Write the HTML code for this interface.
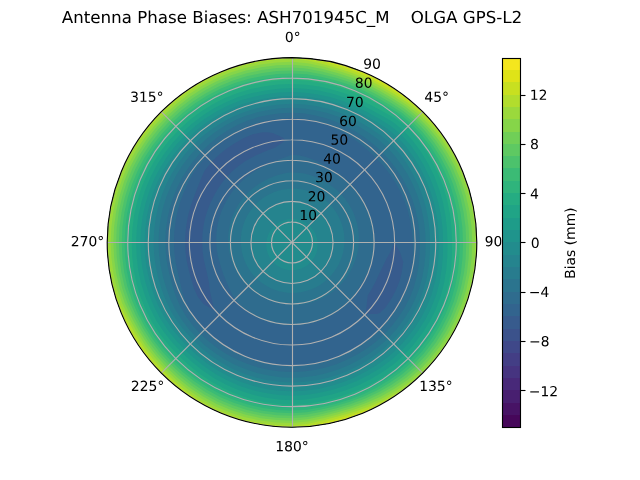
<!DOCTYPE html>
<html><head><meta charset="utf-8"><title>Antenna Phase Biases</title>
<style>
html,body{margin:0;padding:0;background:#fff;width:640px;height:480px;overflow:hidden;font-family:"Liberation Sans",sans-serif}
svg{display:block}
</style></head><body>
<svg width="640" height="480" viewBox="0 0 460.8 345.6">
<defs>
<style type="text/css">*{stroke-linejoin: round; stroke-linecap: butt}</style>
</defs>
<g id="figure_1">
<g id="patch_1">
<path d="M 0 345.6 
L 460.8 345.6 
L 460.8 0 
L 0 0 
z
" style="fill: #ffffff"/>
</g>
<g id="axes_1">
<g id="patch_2">
<path d="M 343.3 174.53 
C 343.3 157.06 339.85 139.75 333.17 123.61 
C 326.48 107.47 316.68 92.8 304.32 80.44 
C 291.97 68.09 277.3 58.29 261.16 51.6 
C 245.02 44.91 227.71 41.47 210.24 41.47 
C 192.77 41.47 175.46 44.91 159.32 51.6 
C 143.18 58.29 128.51 68.09 116.16 80.44 
C 103.8 92.8 94 107.47 87.31 123.61 
C 80.63 139.75 77.18 157.06 77.18 174.53 
C 77.18 192 80.63 209.3 87.31 225.45 
C 94 241.59 103.8 256.26 116.16 268.61 
C 128.51 280.97 143.18 290.77 159.32 297.46 
C 175.46 304.14 192.77 307.58 210.24 307.58 
C 227.71 307.58 245.02 304.14 261.16 297.46 
C 277.3 290.77 291.97 280.97 304.32 268.61 
C 316.68 256.26 326.48 241.59 333.17 225.45 
C 339.85 209.3 343.3 192 343.3 174.53 
M 210.24 174.53 
C 210.24 174.53 210.24 174.53 210.24 174.53 
C 210.24 174.53 210.24 174.53 210.24 174.53 
C 210.24 174.53 210.24 174.53 210.24 174.53 
C 210.24 174.53 210.24 174.53 210.24 174.53 
C 210.24 174.53 210.24 174.53 210.24 174.53 
C 210.24 174.53 210.24 174.53 210.24 174.53 
C 210.24 174.53 210.24 174.53 210.24 174.53 
C 210.24 174.53 210.24 174.53 210.24 174.53 
C 210.24 174.53 210.24 174.53 210.24 174.53 
C 210.24 174.53 210.24 174.53 210.24 174.53 
C 210.24 174.53 210.24 174.53 210.24 174.53 
C 210.24 174.53 210.24 174.53 210.24 174.53 
C 210.24 174.53 210.24 174.53 210.24 174.53 
C 210.24 174.53 210.24 174.53 210.24 174.53 
C 210.24 174.53 210.24 174.53 210.24 174.53 
C 210.24 174.53 210.24 174.53 210.24 174.53 
z
" style="fill: #ffffff"/>
</g>
<g id="QuadContourSet_1">
<path d="M 210.24 174.53 L 210.24 174.53 L 210.24 174.53 L 210.24 174.53 L 210.24 174.53 L 210.24 174.53 L 210.24 174.53 L 210.24 174.53 L 210.24 174.53 L 210.24 174.53 L 210.24 174.53 L 210.24 174.53 L 210.24 174.53 L 210.24 174.53 L 210.24 174.53 L 210.24 174.53 L 210.24 174.53 L 210.24 174.53 L 210.24 174.53 L 210.24 174.53 L 210.24 174.53 L 210.24 174.53 L 210.24 174.53 L 210.24 174.53 L 210.24 174.53 L 210.24 174.53 L 210.24 174.53 L 210.24 174.53 L 210.24 174.53 L 210.24 174.53 L 210.24 174.53 L 210.24 174.53 L 210.24 174.53 L 210.24 174.53 L 210.24 174.53 L 210.24 174.53 L 210.24 174.53 L 210.24 174.53 L 210.24 174.53 L 210.24 174.53 L 210.24 174.53 L 210.24 174.53 L 210.24 174.53 L 210.24 174.53 L 210.24 174.53 L 210.24 174.53 L 210.24 174.53 L 210.24 174.53 L 210.24 174.53 L 210.24 174.53 L 210.24 174.53 L 210.24 174.53 L 210.24 174.53 L 210.24 174.53 L 210.24 174.53 L 210.24 174.53 L 210.24 174.53 L 210.24 174.53 L 210.24 174.53 L 210.24 174.53 L 210.24 174.53 L 210.24 174.53 L 210.24 174.53 L 210.24 174.53 L 210.24 174.53 L 210.24 174.53 L 210.24 174.53 L 210.24 174.53 L 210.24 174.53 L 210.24 174.53 L 210.24 174.53 L 210.24 174.53 L 210.24 167.14 L 210.24 159.74 L 210.24 152.35 L 210.24 144.96 L 210.24 137.57 L 210.24 130.18 L 210.24 122.78 L 210.24 115.39 L 210.24 108.00 L 210.24 100.61 L 210.24 93.22 L 210.24 85.82 L 210.24 78.43 L 210.24 71.04 L 210.24 63.65 L 210.24 56.26 L 210.24 48.86 L 210.24 41.47 L 198.64 41.98 L 187.14 43.49 L 175.80 46.01 L 164.73 49.50 L 154.01 53.94 L 143.71 59.30 L 133.92 65.53 L 124.71 72.60 L 116.16 80.44 L 108.31 89.00 L 101.25 98.21 L 95.01 108.00 L 89.65 118.30 L 85.21 129.02 L 81.72 140.09 L 79.21 151.42 L 77.69 162.93 L 77.18 174.53 L 77.69 186.12 L 79.21 197.63 L 81.72 208.97 L 85.21 220.04 L 89.65 230.76 L 95.01 241.06 L 101.25 250.85 L 108.31 260.05 L 116.16 268.61 L 124.71 276.45 L 133.92 283.52 L 143.71 289.76 L 154.01 295.12 L 164.73 299.56 L 175.80 303.05 L 187.14 305.56 L 198.64 307.08 L 210.24 307.58 L 221.84 307.08 L 233.34 305.56 L 244.68 303.05 L 255.75 299.56 L 266.47 295.12 L 276.77 289.76 L 286.56 283.52 L 295.77 276.45 L 304.32 268.61 L 312.17 260.05 L 319.23 250.85 L 325.47 241.06 L 330.83 230.76 L 335.27 220.04 L 338.76 208.97 L 341.27 197.63 L 342.79 186.12 L 343.30 174.53 L 342.79 162.93 L 341.27 151.42 L 338.76 140.09 L 335.27 129.02 L 330.83 118.30 L 325.47 108.00 L 319.23 98.21 L 312.17 89.00 L 304.32 80.44 L 295.77 72.60 L 286.56 65.53 L 276.77 59.30 L 266.47 53.94 L 255.75 49.50 L 244.68 46.01 L 233.34 43.49 L 221.84 41.98 L 210.24 41.47 L 210.24 48.86 L 210.24 56.26 L 210.24 63.65 L 210.24 71.04 L 210.24 78.43 L 210.24 85.82 L 210.24 93.22 L 210.24 100.61 L 210.24 108.00 L 210.24 115.39 L 210.24 122.78 L 210.24 130.18 L 210.24 137.57 L 210.24 144.96 L 210.24 152.35 L 210.24 159.74 L 210.24 167.14 L 210.24 174.53 z" clip-path="url(#pded382b021)" fill="#375b8d"/>
<path d="M 210.24 174.53 L 210.24 174.53 L 210.24 174.53 L 210.24 174.53 L 210.24 174.53 L 210.24 174.53 L 210.24 174.53 L 210.24 174.53 L 210.24 174.53 L 210.24 174.53 L 210.24 174.53 L 210.24 174.53 L 210.24 174.53 L 210.24 174.53 L 210.24 174.53 L 210.24 174.53 L 210.24 174.53 L 210.24 174.53 L 210.24 174.53 L 210.24 174.53 L 210.24 174.53 L 210.24 174.53 L 210.24 174.53 L 210.24 174.53 L 210.24 174.53 L 210.24 174.53 L 210.24 174.53 L 210.24 174.53 L 210.24 174.53 L 210.24 174.53 L 210.24 174.53 L 210.24 174.53 L 210.24 174.53 L 210.24 174.53 L 210.24 174.53 L 210.24 174.53 L 210.24 174.53 L 210.24 174.53 L 210.24 174.53 L 210.24 174.53 L 210.24 174.53 L 210.24 174.53 L 210.24 174.53 L 210.24 174.53 L 210.24 174.53 L 210.24 174.53 L 210.24 174.53 L 210.24 174.53 L 210.24 174.53 L 210.24 174.53 L 210.24 174.53 L 210.24 174.53 L 210.24 174.53 L 210.24 174.53 L 210.24 174.53 L 210.24 174.53 L 210.24 174.53 L 210.24 174.53 L 210.24 174.53 L 210.24 174.53 L 210.24 174.53 L 210.24 174.53 L 210.24 174.53 L 210.24 174.53 L 210.24 174.53 L 210.24 174.53 L 210.24 174.53 L 210.24 174.53 L 210.24 174.53 L 210.24 174.53 L 210.24 174.53 L 210.24 174.53 L 210.24 167.14 L 210.24 159.74 L 210.24 152.35 L 210.24 144.96 L 210.24 137.57 L 210.24 130.18 L 210.24 122.78 L 210.24 115.39 L 210.24 108.00 L 210.24 100.61 L 210.24 93.22 L 210.24 85.82 L 210.24 78.43 L 210.24 71.04 L 210.24 63.65 L 210.24 56.26 L 210.24 48.86 L 210.24 41.47 L 198.64 41.98 L 187.14 43.49 L 175.80 46.01 L 164.73 49.50 L 154.01 53.94 L 143.71 59.30 L 133.92 65.53 L 124.71 72.60 L 116.16 80.44 L 108.31 89.00 L 101.25 98.21 L 95.01 108.00 L 89.65 118.30 L 85.21 129.02 L 81.72 140.09 L 79.21 151.42 L 77.69 162.93 L 77.18 174.53 L 77.69 186.12 L 79.21 197.63 L 81.72 208.97 L 85.21 220.04 L 89.65 230.76 L 95.01 241.06 L 101.25 250.85 L 108.31 260.05 L 116.16 268.61 L 124.71 276.45 L 133.92 283.52 L 143.71 289.76 L 154.01 295.12 L 164.73 299.56 L 175.80 303.05 L 187.14 305.56 L 198.64 307.08 L 210.24 307.58 L 221.84 307.08 L 233.34 305.56 L 244.68 303.05 L 255.75 299.56 L 266.47 295.12 L 276.77 289.76 L 286.56 283.52 L 295.77 276.45 L 304.32 268.61 L 312.17 260.05 L 319.23 250.85 L 325.47 241.06 L 330.83 230.76 L 335.27 220.04 L 338.76 208.97 L 341.27 197.63 L 342.79 186.12 L 343.30 174.53 L 342.79 162.93 L 341.27 151.42 L 338.76 140.09 L 335.27 129.02 L 330.83 118.30 L 325.47 108.00 L 319.23 98.21 L 312.17 89.00 L 304.32 80.44 L 295.77 72.60 L 286.56 65.53 L 276.77 59.30 L 266.47 53.94 L 255.75 49.50 L 244.68 46.01 L 233.34 43.49 L 221.84 41.98 L 210.24 41.47 L 210.24 48.86 L 210.24 56.26 L 210.24 63.65 L 210.24 71.04 L 210.24 78.43 L 210.24 85.82 L 210.24 93.22 L 210.24 100.61 L 210.24 108.00 L 210.24 115.39 L 210.24 122.78 L 210.24 130.18 L 210.24 137.57 L 210.24 144.96 L 210.24 152.35 L 210.24 159.74 L 210.24 167.14 L 210.24 174.53 z M 270.53 202.64 L 272.90 197.33 L 275.58 192.04 L 278.18 186.51 L 281.40 180.75 L 284.16 174.53 L 284.16 174.53 L 284.16 174.53 L 287.87 181.32 L 290.32 188.65 L 290.32 188.65 L 289.33 195.72 L 287.58 202.68 L 284.88 209.33 L 281.47 215.65 L 277.45 221.59 L 273.92 225.09 L 271.64 226.05 L 263.29 226.01 L 264.00 219.64 L 264.74 212.69 L 264.74 212.69 L 267.85 207.79 L 270.53 202.64 z M 150.50 203.81 L 151.02 208.72 L 152.39 215.03 L 153.98 221.74 L 154.53 223.11 L 152.92 222.62 L 146.67 219.04 L 142.38 213.71 L 139.63 207.46 L 137.66 200.94 L 135.90 194.45 L 134.45 187.89 L 133.57 181.24 L 133.28 174.53 L 133.53 167.82 L 134.30 161.14 L 135.59 154.53 L 137.42 148.02 L 139.72 141.64 L 142.15 135.22 L 144.74 128.66 L 147.19 123.18 L 147.85 122.18 L 152.34 116.63 L 157.47 111.64 L 163.03 107.11 L 168.98 103.07 L 175.29 99.59 L 181.92 96.73 L 188.98 95.18 L 192.39 95.20 L 196.34 95.72 L 203.64 99.04 L 205.33 100.77 L 203.92 102.24 L 198.18 106.14 L 192.51 108.37 L 186.98 110.62 L 181.63 113.17 L 176.52 116.12 L 171.70 119.49 L 167.23 123.27 L 163.20 127.49 L 163.20 127.49 L 159.56 132.01 L 156.35 136.80 L 153.55 141.80 L 151.14 146.97 L 149.11 152.28 L 147.54 157.73 L 146.43 163.28 L 145.78 168.89 L 145.56 174.53 L 145.81 180.17 L 146.54 185.76 L 147.76 191.27 L 149.05 196.80 L 150.22 202.52 z" clip-path="url(#pded382b021)" fill="#32648e"/>
<path d="M 210.24 174.53 L 210.24 174.53 L 210.24 174.53 L 210.24 174.53 L 210.24 174.53 L 210.24 174.53 L 210.24 174.53 L 210.24 174.53 L 210.24 174.53 L 210.24 174.53 L 210.24 174.53 L 210.24 174.53 L 210.24 174.53 L 210.24 174.53 L 210.24 174.53 L 210.24 174.53 L 210.24 174.53 L 210.24 174.53 L 210.24 174.53 L 210.24 174.53 L 210.24 174.53 L 210.24 174.53 L 210.24 174.53 L 210.24 174.53 L 210.24 174.53 L 210.24 174.53 L 210.24 174.53 L 210.24 174.53 L 210.24 174.53 L 210.24 174.53 L 210.24 174.53 L 210.24 174.53 L 210.24 174.53 L 210.24 174.53 L 210.24 174.53 L 210.24 174.53 L 210.24 174.53 L 210.24 174.53 L 210.24 174.53 L 210.24 174.53 L 210.24 174.53 L 210.24 174.53 L 210.24 174.53 L 210.24 174.53 L 210.24 174.53 L 210.24 174.53 L 210.24 174.53 L 210.24 174.53 L 210.24 174.53 L 210.24 174.53 L 210.24 174.53 L 210.24 174.53 L 210.24 174.53 L 210.24 174.53 L 210.24 174.53 L 210.24 174.53 L 210.24 174.53 L 210.24 174.53 L 210.24 174.53 L 210.24 174.53 L 210.24 174.53 L 210.24 174.53 L 210.24 174.53 L 210.24 174.53 L 210.24 174.53 L 210.24 174.53 L 210.24 174.53 L 210.24 174.53 L 210.24 174.53 L 210.24 174.53 L 210.24 174.53 L 210.24 174.53 L 210.24 167.14 L 210.24 159.74 L 210.24 152.35 L 210.24 144.96 L 210.24 137.57 L 210.24 130.18 L 210.24 122.78 L 210.24 115.39 L 210.24 111.36 L 204.89 113.42 L 199.79 115.24 L 194.89 117.24 L 193.83 117.72 L 190.22 119.51 L 185.71 121.92 L 181.43 124.62 L 177.40 127.63 L 173.65 130.92 L 170.20 134.49 L 167.08 138.32 L 164.32 142.38 L 161.92 146.63 L 159.89 151.05 L 158.24 155.60 L 157.00 160.26 L 156.16 164.99 L 155.73 169.76 L 155.69 174.53 L 156.05 179.27 L 156.82 183.95 L 157.99 188.53 L 159.36 193.05 L 160.83 197.57 L 162.58 202.04 L 164.55 206.52 L 166.69 211.07 L 169.37 215.40 L 172.64 219.34 L 175.89 222.67 L 176.29 223.01 L 180.46 226.11 L 184.98 228.71 L 189.78 230.73 L 194.76 232.30 L 199.85 233.43 L 205.03 234.11 L 210.24 234.34 L 215.45 234.11 L 220.63 233.43 L 225.72 232.30 L 230.70 230.73 L 235.52 228.73 L 240.14 226.32 L 244.53 223.51 L 248.64 220.29 L 252.44 216.73 L 254.87 213.32 L 255.41 212.43 L 257.95 207.93 L 260.71 203.67 L 263.09 199.17 L 265.19 194.53 L 267.24 190.27 L 267.40 189.84 L 268.82 184.86 L 269.59 179.72 L 269.92 174.53 L 269.70 169.33 L 269.02 164.16 L 267.89 159.08 L 266.32 154.12 L 264.33 149.30 L 261.95 144.67 L 259.18 140.26 L 256.04 136.10 L 252.53 132.24 L 248.68 128.71 L 244.54 125.54 L 240.14 122.73 L 235.65 120.04 L 231.04 117.39 L 226.15 115.14 L 221.04 113.30 L 215.72 111.91 L 210.24 111.36 L 210.24 115.39 L 210.24 122.78 L 210.24 130.18 L 210.24 137.57 L 210.24 144.96 L 210.24 152.35 L 210.24 159.74 L 210.24 167.14 L 210.24 174.53 z M 240.29 91.97 L 247.14 95.40 L 253.67 99.31 L 259.76 103.80 L 265.47 108.71 L 270.87 113.90 L 275.96 119.39 L 280.60 125.26 L 284.74 131.51 L 288.34 138.11 L 291.34 145.01 L 293.73 152.16 L 295.53 159.49 L 296.72 166.96 L 297.30 174.53 L 297.44 182.16 L 296.93 189.81 L 295.87 197.47 L 295.75 198.11 L 293.95 204.99 L 291.04 212.21 L 287.46 219.11 L 283.28 225.67 L 278.55 231.84 L 273.29 237.58 L 267.48 242.74 L 261.19 247.29 L 254.59 251.35 L 247.73 254.92 L 240.58 257.88 L 233.20 260.21 L 225.64 261.88 L 217.97 262.89 L 210.24 263.23 L 202.51 262.89 L 194.84 261.88 L 187.28 260.21 L 179.90 257.88 L 172.75 254.93 L 165.83 251.45 L 159.22 247.39 L 152.99 242.76 L 147.23 237.54 L 142.07 231.73 L 138.08 226.12 L 137.64 225.36 L 134.13 218.47 L 131.53 211.23 L 129.79 203.81 L 128.13 196.53 L 126.52 189.29 L 125.56 181.94 L 125.23 174.53 L 125.50 167.11 L 126.34 159.73 L 127.76 152.43 L 129.78 145.24 L 132.38 138.22 L 135.46 131.35 L 139.12 124.73 L 143.42 118.46 L 148.32 112.61 L 153.70 107.15 L 159.48 102.03 L 161.54 100.39 L 165.76 97.48 L 172.50 93.60 L 179.64 90.44 L 187.06 88.00 L 194.68 86.26 L 202.43 85.23 L 210.24 84.89 L 210.24 78.43 L 210.24 71.04 L 210.24 63.65 L 210.24 56.26 L 210.24 48.86 L 210.24 41.47 L 198.64 41.98 L 187.14 43.49 L 175.80 46.01 L 164.73 49.50 L 154.01 53.94 L 143.71 59.30 L 133.92 65.53 L 124.71 72.60 L 116.16 80.44 L 108.31 89.00 L 101.25 98.21 L 95.01 108.00 L 89.65 118.30 L 85.21 129.02 L 81.72 140.09 L 79.21 151.42 L 77.69 162.93 L 77.18 174.53 L 77.69 186.12 L 79.21 197.63 L 81.72 208.97 L 85.21 220.04 L 89.65 230.76 L 95.01 241.06 L 101.25 250.85 L 108.31 260.05 L 116.16 268.61 L 124.71 276.45 L 133.92 283.52 L 143.71 289.76 L 154.01 295.12 L 164.73 299.56 L 175.80 303.05 L 187.14 305.56 L 198.64 307.08 L 210.24 307.58 L 221.84 307.08 L 233.34 305.56 L 244.68 303.05 L 255.75 299.56 L 266.47 295.12 L 276.77 289.76 L 286.56 283.52 L 295.77 276.45 L 304.32 268.61 L 312.17 260.05 L 319.23 250.85 L 325.47 241.06 L 330.83 230.76 L 335.27 220.04 L 338.76 208.97 L 341.27 197.63 L 342.79 186.12 L 343.30 174.53 L 342.79 162.93 L 341.27 151.42 L 338.76 140.09 L 335.27 129.02 L 330.83 118.30 L 325.47 108.00 L 319.23 98.21 L 312.17 89.00 L 304.32 80.44 L 295.77 72.60 L 286.56 65.53 L 276.77 59.30 L 266.47 53.94 L 255.75 49.50 L 244.68 46.01 L 233.34 43.49 L 221.84 41.98 L 210.24 41.47 L 210.24 48.86 L 210.24 56.26 L 210.24 63.65 L 210.24 71.04 L 210.24 78.43 L 210.24 84.89 L 218.04 85.40 L 225.71 86.80 L 233.20 88.85 L 233.20 88.85 z" clip-path="url(#pded382b021)" fill="#2f6c8e"/>
<path d="M 210.24 174.53 L 210.24 174.53 L 210.24 174.53 L 210.24 174.53 L 210.24 174.53 L 210.24 174.53 L 210.24 174.53 L 210.24 174.53 L 210.24 174.53 L 210.24 174.53 L 210.24 174.53 L 210.24 174.53 L 210.24 174.53 L 210.24 174.53 L 210.24 174.53 L 210.24 174.53 L 210.24 174.53 L 210.24 174.53 L 210.24 174.53 L 210.24 174.53 L 210.24 174.53 L 210.24 174.53 L 210.24 174.53 L 210.24 174.53 L 210.24 174.53 L 210.24 174.53 L 210.24 174.53 L 210.24 174.53 L 210.24 174.53 L 210.24 174.53 L 210.24 174.53 L 210.24 174.53 L 210.24 174.53 L 210.24 174.53 L 210.24 174.53 L 210.24 174.53 L 210.24 174.53 L 210.24 174.53 L 210.24 174.53 L 210.24 174.53 L 210.24 174.53 L 210.24 174.53 L 210.24 174.53 L 210.24 174.53 L 210.24 174.53 L 210.24 174.53 L 210.24 174.53 L 210.24 174.53 L 210.24 174.53 L 210.24 174.53 L 210.24 174.53 L 210.24 174.53 L 210.24 174.53 L 210.24 174.53 L 210.24 174.53 L 210.24 174.53 L 210.24 174.53 L 210.24 174.53 L 210.24 174.53 L 210.24 174.53 L 210.24 174.53 L 210.24 174.53 L 210.24 174.53 L 210.24 174.53 L 210.24 174.53 L 210.24 174.53 L 210.24 174.53 L 210.24 174.53 L 210.24 174.53 L 210.24 174.53 L 210.24 174.53 L 210.24 174.53 L 210.24 167.14 L 210.24 159.74 L 210.24 152.35 L 210.24 144.96 L 210.24 137.57 L 210.24 130.18 L 210.24 124.09 L 205.87 124.61 L 201.61 125.60 L 197.49 126.95 L 193.52 128.58 L 189.69 130.47 L 186.06 132.64 L 182.64 135.10 L 179.45 137.83 L 176.52 140.81 L 173.88 144.01 L 171.53 147.42 L 169.49 151.00 L 167.77 154.72 L 166.38 158.56 L 165.33 162.49 L 164.63 166.48 L 164.27 170.51 L 164.25 174.53 L 164.58 178.52 L 165.25 182.46 L 166.25 186.32 L 167.55 190.06 L 169.16 193.69 L 171.06 197.15 L 173.24 200.43 L 175.69 203.52 L 178.40 206.37 L 181.34 208.97 L 184.48 211.32 L 187.80 213.39 L 191.28 215.18 L 194.90 216.67 L 198.63 217.85 L 202.45 218.73 L 206.32 219.29 L 210.24 219.52 L 214.17 219.43 L 218.08 219.02 L 221.96 218.28 L 225.77 217.21 L 229.50 215.83 L 233.10 214.13 L 236.56 212.12 L 239.86 209.82 L 242.96 207.24 L 245.78 204.35 L 248.35 201.21 L 250.70 197.89 L 252.77 194.36 L 254.54 190.65 L 256.07 186.81 L 257.25 182.82 L 258.00 178.71 L 258.39 174.53 L 258.41 170.31 L 258.04 166.10 L 257.30 161.92 L 256.18 157.81 L 254.70 153.80 L 252.85 149.93 L 250.65 146.24 L 248.12 142.75 L 245.27 139.50 L 242.14 136.51 L 238.74 133.83 L 235.11 131.46 L 231.30 129.37 L 227.34 127.55 L 223.22 126.09 L 218.97 125.00 L 214.63 124.30 L 210.24 124.09 L 210.24 130.18 L 210.24 137.57 L 210.24 144.96 L 210.24 152.35 L 210.24 159.74 L 210.24 167.14 L 210.24 174.53 z M 218.37 81.63 L 226.39 82.96 L 234.23 84.99 L 241.87 87.61 L 249.24 90.88 L 256.28 94.78 L 262.97 99.22 L 269.30 104.14 L 275.20 109.56 L 280.62 115.47 L 285.51 121.82 L 289.83 128.58 L 293.55 135.68 L 296.64 143.08 L 299.06 150.73 L 300.81 158.56 L 301.90 166.51 L 302.32 174.53 L 302.18 182.57 L 301.45 190.61 L 300.14 198.62 L 298.12 206.51 L 295.14 214.12 L 291.43 221.40 L 287.06 228.32 L 282.08 234.81 L 276.56 240.84 L 270.45 246.28 L 263.84 251.07 L 256.90 255.35 L 249.68 259.11 L 242.16 262.22 L 234.39 264.67 L 226.45 266.43 L 218.37 267.50 L 210.24 267.85 L 202.11 267.49 L 194.04 266.40 L 186.11 264.60 L 178.36 262.11 L 170.86 258.97 L 163.66 255.21 L 156.79 250.86 L 150.33 245.93 L 144.32 240.45 L 138.87 234.41 L 134.06 227.87 L 129.93 220.90 L 126.66 213.50 L 124.23 205.83 L 122.18 198.12 L 120.46 190.36 L 119.42 182.47 L 119.07 174.53 L 119.39 166.58 L 120.35 158.68 L 121.97 150.88 L 124.25 143.23 L 127.20 135.81 L 130.77 128.65 L 134.94 121.80 L 139.69 115.33 L 144.98 109.27 L 150.77 103.65 L 157.01 98.51 L 163.71 93.93 L 170.82 90.00 L 178.30 86.79 L 186.07 84.32 L 194.02 82.56 L 202.10 81.50 L 210.24 81.15 L 210.24 78.43 L 210.24 71.04 L 210.24 63.65 L 210.24 56.26 L 210.24 48.86 L 210.24 41.47 L 198.64 41.98 L 187.14 43.49 L 175.80 46.01 L 164.73 49.50 L 154.01 53.94 L 143.71 59.30 L 133.92 65.53 L 124.71 72.60 L 116.16 80.44 L 108.31 89.00 L 101.25 98.21 L 95.01 108.00 L 89.65 118.30 L 85.21 129.02 L 81.72 140.09 L 79.21 151.42 L 77.69 162.93 L 77.18 174.53 L 77.69 186.12 L 79.21 197.63 L 81.72 208.97 L 85.21 220.04 L 89.65 230.76 L 95.01 241.06 L 101.25 250.85 L 108.31 260.05 L 116.16 268.61 L 124.71 276.45 L 133.92 283.52 L 143.71 289.76 L 154.01 295.12 L 164.73 299.56 L 175.80 303.05 L 187.14 305.56 L 198.64 307.08 L 210.24 307.58 L 221.84 307.08 L 233.34 305.56 L 244.68 303.05 L 255.75 299.56 L 266.47 295.12 L 276.77 289.76 L 286.56 283.52 L 295.77 276.45 L 304.32 268.61 L 312.17 260.05 L 319.23 250.85 L 325.47 241.06 L 330.83 230.76 L 335.27 220.04 L 338.76 208.97 L 341.27 197.63 L 342.79 186.12 L 343.30 174.53 L 342.79 162.93 L 341.27 151.42 L 338.76 140.09 L 335.27 129.02 L 330.83 118.30 L 325.47 108.00 L 319.23 98.21 L 312.17 89.00 L 304.32 80.44 L 295.77 72.60 L 286.56 65.53 L 276.77 59.30 L 266.47 53.94 L 255.75 49.50 L 244.68 46.01 L 233.34 43.49 L 221.84 41.98 L 210.24 41.47 L 210.24 48.86 L 210.24 56.26 L 210.24 63.65 L 210.24 71.04 L 210.24 78.43 L 210.24 81.15 z" clip-path="url(#pded382b021)" fill="#2b748e"/>
<path d="M 210.24 174.53 L 210.24 174.53 L 210.24 174.53 L 210.24 174.53 L 210.24 174.53 L 210.24 174.53 L 210.24 174.53 L 210.24 174.53 L 210.24 174.53 L 210.24 174.53 L 210.24 174.53 L 210.24 174.53 L 210.24 174.53 L 210.24 174.53 L 210.24 174.53 L 210.24 174.53 L 210.24 174.53 L 210.24 174.53 L 210.24 174.53 L 210.24 174.53 L 210.24 174.53 L 210.24 174.53 L 210.24 174.53 L 210.24 174.53 L 210.24 174.53 L 210.24 174.53 L 210.24 174.53 L 210.24 174.53 L 210.24 174.53 L 210.24 174.53 L 210.24 174.53 L 210.24 174.53 L 210.24 174.53 L 210.24 174.53 L 210.24 174.53 L 210.24 174.53 L 210.24 174.53 L 210.24 174.53 L 210.24 174.53 L 210.24 174.53 L 210.24 174.53 L 210.24 174.53 L 210.24 174.53 L 210.24 174.53 L 210.24 174.53 L 210.24 174.53 L 210.24 174.53 L 210.24 174.53 L 210.24 174.53 L 210.24 174.53 L 210.24 174.53 L 210.24 174.53 L 210.24 174.53 L 210.24 174.53 L 210.24 174.53 L 210.24 174.53 L 210.24 174.53 L 210.24 174.53 L 210.24 174.53 L 210.24 174.53 L 210.24 174.53 L 210.24 174.53 L 210.24 174.53 L 210.24 174.53 L 210.24 174.53 L 210.24 174.53 L 210.24 174.53 L 210.24 174.53 L 210.24 174.53 L 210.24 174.53 L 210.24 174.53 L 210.24 174.53 L 210.24 167.14 L 210.24 159.74 L 210.24 152.35 L 210.24 144.96 L 210.24 137.57 L 210.24 135.79 L 206.87 136.00 L 203.54 136.51 L 200.27 137.32 L 197.10 138.42 L 194.04 139.79 L 191.13 141.43 L 188.39 143.32 L 185.82 145.43 L 183.47 147.75 L 181.33 150.27 L 179.42 152.95 L 177.76 155.78 L 176.36 158.73 L 175.22 161.78 L 174.36 164.91 L 173.76 168.10 L 173.49 170.60 L 173.44 171.31 L 173.37 174.53 L 173.58 177.74 L 174.06 180.91 L 174.82 184.02 L 175.83 187.05 L 177.10 189.98 L 178.62 192.79 L 180.36 195.45 L 182.33 197.95 L 184.50 200.27 L 186.85 202.40 L 189.38 204.31 L 192.07 206.01 L 194.88 207.46 L 197.81 208.67 L 200.83 209.63 L 203.93 210.32 L 207.07 210.75 L 210.24 210.91 L 213.41 210.80 L 216.57 210.41 L 219.68 209.76 L 222.73 208.84 L 225.69 207.67 L 228.55 206.24 L 231.27 204.57 L 233.85 202.67 L 236.26 200.55 L 238.48 198.23 L 240.50 195.72 L 240.92 195.14 L 242.32 193.05 L 243.91 190.23 L 245.26 187.27 L 246.35 184.20 L 247.17 181.04 L 247.72 177.81 L 247.98 174.53 L 247.96 171.23 L 247.65 167.93 L 247.04 164.67 L 246.15 161.46 L 244.97 158.33 L 243.52 155.32 L 241.79 152.43 L 239.81 149.71 L 237.59 147.18 L 235.14 144.85 L 232.49 142.75 L 229.65 140.90 L 226.66 139.32 L 223.53 138.02 L 220.29 137.01 L 216.98 136.29 L 213.62 135.89 L 210.24 135.79 L 210.24 137.57 L 210.24 144.96 L 210.24 152.35 L 210.24 159.74 L 210.24 167.14 L 210.24 174.53 z M 218.68 78.07 L 227.03 79.31 L 235.23 81.27 L 243.23 83.90 L 250.96 87.20 L 258.37 91.17 L 265.50 95.61 L 272.36 100.50 L 278.71 106.06 L 284.39 112.31 L 289.44 119.07 L 293.87 126.24 L 297.67 133.76 L 300.83 141.56 L 303.29 149.60 L 305.04 157.81 L 306.11 166.14 L 306.49 174.53 L 306.31 182.93 L 305.51 191.33 L 304.04 199.66 L 301.83 207.87 L 298.73 215.79 L 294.88 223.39 L 290.33 230.61 L 285.14 237.38 L 279.38 243.67 L 273.03 249.36 L 266.18 254.42 L 258.96 258.91 L 251.42 262.84 L 243.57 266.09 L 235.46 268.65 L 227.16 270.49 L 218.73 271.60 L 210.24 271.97 L 201.75 271.58 L 193.33 270.44 L 185.05 268.54 L 176.97 265.94 L 169.15 262.64 L 161.67 258.66 L 154.55 254.05 L 147.87 248.86 L 141.64 243.13 L 135.92 236.89 L 130.78 230.17 L 126.31 222.99 L 122.64 215.38 L 119.76 207.46 L 117.42 199.40 L 115.60 191.21 L 114.51 182.90 L 114.14 174.53 L 114.50 166.15 L 115.56 157.83 L 117.33 149.63 L 119.80 141.61 L 122.97 133.83 L 126.79 126.35 L 131.25 119.22 L 136.31 112.50 L 141.94 106.23 L 148.09 100.46 L 154.72 95.24 L 161.79 90.61 L 169.26 86.65 L 177.07 83.39 L 185.15 80.89 L 193.41 79.11 L 201.80 78.01 L 210.24 77.64 L 210.24 71.04 L 210.24 63.65 L 210.24 56.26 L 210.24 48.86 L 210.24 41.47 L 198.64 41.98 L 187.14 43.49 L 175.80 46.01 L 164.73 49.50 L 154.01 53.94 L 143.71 59.30 L 133.92 65.53 L 124.71 72.60 L 116.16 80.44 L 108.31 89.00 L 101.25 98.21 L 95.01 108.00 L 89.65 118.30 L 85.21 129.02 L 81.72 140.09 L 79.21 151.42 L 77.69 162.93 L 77.18 174.53 L 77.69 186.12 L 79.21 197.63 L 81.72 208.97 L 85.21 220.04 L 89.65 230.76 L 95.01 241.06 L 101.25 250.85 L 108.31 260.05 L 116.16 268.61 L 124.71 276.45 L 133.92 283.52 L 143.71 289.76 L 154.01 295.12 L 164.73 299.56 L 175.80 303.05 L 187.14 305.56 L 198.64 307.08 L 210.24 307.58 L 221.84 307.08 L 233.34 305.56 L 244.68 303.05 L 255.75 299.56 L 266.47 295.12 L 276.77 289.76 L 286.56 283.52 L 295.77 276.45 L 304.32 268.61 L 312.17 260.05 L 319.23 250.85 L 325.47 241.06 L 330.83 230.76 L 335.27 220.04 L 338.76 208.97 L 341.27 197.63 L 342.79 186.12 L 343.30 174.53 L 342.79 162.93 L 341.27 151.42 L 338.76 140.09 L 335.27 129.02 L 330.83 118.30 L 325.47 108.00 L 319.23 98.21 L 312.17 89.00 L 304.32 80.44 L 295.77 72.60 L 286.56 65.53 L 276.77 59.30 L 266.47 53.94 L 255.75 49.50 L 244.68 46.01 L 233.34 43.49 L 221.84 41.98 L 210.24 41.47 L 210.24 48.86 L 210.24 56.26 L 210.24 63.65 L 210.24 71.04 L 210.24 77.64 z" clip-path="url(#pded382b021)" fill="#287c8e"/>
<path d="M 210.24 174.53 L 210.24 174.53 L 210.24 174.53 L 210.24 174.53 L 210.24 174.53 L 210.24 174.53 L 210.24 174.53 L 210.24 174.53 L 210.24 174.53 L 210.24 174.53 L 210.24 174.53 L 210.24 174.53 L 210.24 174.53 L 210.24 174.53 L 210.24 174.53 L 210.24 174.53 L 210.24 174.53 L 210.24 174.53 L 210.24 174.53 L 210.24 174.53 L 210.24 174.53 L 210.24 174.53 L 210.24 174.53 L 210.24 174.53 L 210.24 174.53 L 210.24 174.53 L 210.24 174.53 L 210.24 174.53 L 210.24 174.53 L 210.24 174.53 L 210.24 174.53 L 210.24 174.53 L 210.24 174.53 L 210.24 174.53 L 210.24 174.53 L 210.24 174.53 L 210.24 174.53 L 210.24 174.53 L 210.24 174.53 L 210.24 174.53 L 210.24 174.53 L 210.24 174.53 L 210.24 174.53 L 210.24 174.53 L 210.24 174.53 L 210.24 174.53 L 210.24 174.53 L 210.24 174.53 L 210.24 174.53 L 210.24 174.53 L 210.24 174.53 L 210.24 174.53 L 210.24 174.53 L 210.24 174.53 L 210.24 174.53 L 210.24 174.53 L 210.24 174.53 L 210.24 174.53 L 210.24 174.53 L 210.24 174.53 L 210.24 174.53 L 210.24 174.53 L 210.24 174.53 L 210.24 174.53 L 210.24 174.53 L 210.24 174.53 L 210.24 174.53 L 210.24 174.53 L 210.24 174.53 L 210.24 174.53 L 210.24 174.53 L 210.24 174.53 L 210.24 167.14 L 210.24 159.74 L 210.24 152.35 L 210.24 144.96 L 210.24 144.71 L 207.64 144.82 L 205.06 145.16 L 202.52 145.73 L 200.04 146.51 L 197.64 147.51 L 195.34 148.71 L 193.14 150.11 L 191.08 151.70 L 189.17 153.45 L 187.41 155.37 L 185.83 157.44 L 184.44 159.63 L 183.24 161.94 L 182.25 164.34 L 181.47 166.82 L 180.91 169.36 L 180.57 171.93 L 180.46 174.53 L 180.57 177.12 L 180.92 179.70 L 181.48 182.23 L 182.26 184.71 L 183.26 187.11 L 184.46 189.41 L 185.85 191.60 L 187.44 193.66 L 189.19 195.58 L 191.11 197.33 L 193.17 198.91 L 195.36 200.31 L 197.66 201.50 L 200.06 202.50 L 202.54 203.28 L 205.07 203.84 L 207.65 204.18 L 210.24 204.29 L 212.83 204.18 L 215.41 203.84 L 217.94 203.28 L 220.42 202.50 L 222.82 201.51 L 225.13 200.31 L 227.32 198.92 L 229.38 197.34 L 231.30 195.58 L 233.05 193.67 L 234.64 191.61 L 236.03 189.42 L 237.24 187.12 L 238.23 184.72 L 239.02 182.24 L 239.58 179.70 L 239.92 177.12 L 240.04 174.53 L 239.93 171.93 L 239.59 169.35 L 239.03 166.81 L 238.25 164.33 L 237.26 161.93 L 236.06 159.62 L 234.66 157.43 L 233.08 155.36 L 231.32 153.44 L 229.41 151.69 L 227.34 150.10 L 225.15 148.70 L 222.84 147.50 L 220.44 146.51 L 217.96 145.72 L 215.42 145.16 L 212.84 144.82 L 210.24 144.71 L 210.24 144.96 L 210.24 152.35 L 210.24 159.74 L 210.24 167.14 L 210.24 174.53 z M 218.93 75.19 L 227.54 76.40 L 236.01 78.35 L 244.27 81.02 L 252.27 84.39 L 259.94 88.45 L 267.39 92.91 L 274.64 97.78 L 281.33 103.44 L 287.19 109.96 L 292.38 117.02 L 296.89 124.50 L 300.75 132.32 L 303.96 140.42 L 306.45 148.75 L 308.22 157.25 L 309.27 165.86 L 309.64 174.53 L 309.46 183.21 L 308.67 191.88 L 307.17 200.50 L 304.90 208.98 L 301.72 217.19 L 297.78 225.07 L 293.09 232.54 L 287.71 239.54 L 281.75 246.04 L 275.19 251.94 L 268.11 257.17 L 260.64 261.82 L 252.84 265.88 L 244.72 269.25 L 236.33 271.89 L 227.74 273.80 L 219.03 274.94 L 210.24 275.33 L 201.46 274.92 L 192.75 273.72 L 184.19 271.75 L 175.84 269.03 L 167.77 265.60 L 160.06 261.45 L 152.75 256.64 L 145.87 251.24 L 139.46 245.31 L 133.53 238.90 L 128.16 232.00 L 123.46 224.63 L 119.58 216.80 L 116.50 208.65 L 114.02 200.31 L 112.14 191.83 L 111.00 183.21 L 110.62 174.53 L 111.00 165.85 L 112.11 157.23 L 113.97 148.73 L 116.56 140.43 L 119.86 132.38 L 123.85 124.65 L 128.50 117.29 L 133.77 110.36 L 139.62 103.91 L 146.01 97.99 L 152.91 92.65 L 160.26 87.95 L 167.99 83.93 L 176.06 80.62 L 184.40 78.07 L 192.92 76.28 L 201.55 75.15 L 210.24 74.77 L 210.24 71.04 L 210.24 63.65 L 210.24 56.26 L 210.24 48.86 L 210.24 41.47 L 198.64 41.98 L 187.14 43.49 L 175.80 46.01 L 164.73 49.50 L 154.01 53.94 L 143.71 59.30 L 133.92 65.53 L 124.71 72.60 L 116.16 80.44 L 108.31 89.00 L 101.25 98.21 L 95.01 108.00 L 89.65 118.30 L 85.21 129.02 L 81.72 140.09 L 79.21 151.42 L 77.69 162.93 L 77.18 174.53 L 77.69 186.12 L 79.21 197.63 L 81.72 208.97 L 85.21 220.04 L 89.65 230.76 L 95.01 241.06 L 101.25 250.85 L 108.31 260.05 L 116.16 268.61 L 124.71 276.45 L 133.92 283.52 L 143.71 289.76 L 154.01 295.12 L 164.73 299.56 L 175.80 303.05 L 187.14 305.56 L 198.64 307.08 L 210.24 307.58 L 221.84 307.08 L 233.34 305.56 L 244.68 303.05 L 255.75 299.56 L 266.47 295.12 L 276.77 289.76 L 286.56 283.52 L 295.77 276.45 L 304.32 268.61 L 312.17 260.05 L 319.23 250.85 L 325.47 241.06 L 330.83 230.76 L 335.27 220.04 L 338.76 208.97 L 341.27 197.63 L 342.79 186.12 L 343.30 174.53 L 342.79 162.93 L 341.27 151.42 L 338.76 140.09 L 335.27 129.02 L 330.83 118.30 L 325.47 108.00 L 319.23 98.21 L 312.17 89.00 L 304.32 80.44 L 295.77 72.60 L 286.56 65.53 L 276.77 59.30 L 266.47 53.94 L 255.75 49.50 L 244.68 46.01 L 233.34 43.49 L 221.84 41.98 L 210.24 41.47 L 210.24 48.86 L 210.24 56.26 L 210.24 63.65 L 210.24 71.04 L 210.24 74.77 z" clip-path="url(#pded382b021)" fill="#25848e"/>
<path d="M 210.24 174.53 L 210.24 174.53 L 210.24 174.53 L 210.24 174.53 L 210.24 174.53 L 210.24 174.53 L 210.24 174.53 L 210.24 174.53 L 210.24 174.53 L 210.24 174.53 L 210.24 174.53 L 210.24 174.53 L 210.24 174.53 L 210.24 174.53 L 210.24 174.53 L 210.24 174.53 L 210.24 174.53 L 210.24 174.53 L 210.24 174.53 L 210.24 174.53 L 210.24 174.53 L 210.24 174.53 L 210.24 174.53 L 210.24 174.53 L 210.24 174.53 L 210.24 174.53 L 210.24 174.53 L 210.24 174.53 L 210.24 174.53 L 210.24 174.53 L 210.24 174.53 L 210.24 174.53 L 210.24 174.53 L 210.24 174.53 L 210.24 174.53 L 210.24 174.53 L 210.24 174.53 L 210.24 174.53 L 210.24 174.53 L 210.24 174.53 L 210.24 174.53 L 210.24 174.53 L 210.24 174.53 L 210.24 174.53 L 210.24 174.53 L 210.24 174.53 L 210.24 174.53 L 210.24 174.53 L 210.24 174.53 L 210.24 174.53 L 210.24 174.53 L 210.24 174.53 L 210.24 174.53 L 210.24 174.53 L 210.24 174.53 L 210.24 174.53 L 210.24 174.53 L 210.24 174.53 L 210.24 174.53 L 210.24 174.53 L 210.24 174.53 L 210.24 174.53 L 210.24 174.53 L 210.24 174.53 L 210.24 174.53 L 210.24 174.53 L 210.24 174.53 L 210.24 174.53 L 210.24 174.53 L 210.24 174.53 L 210.24 174.53 L 210.24 174.53 L 210.24 167.14 L 210.24 159.74 L 210.24 157.65 L 208.77 157.71 L 207.30 157.88 L 205.86 158.17 L 204.43 158.58 L 203.04 159.09 L 201.69 159.73 L 200.39 160.46 L 199.15 161.31 L 197.97 162.26 L 196.87 163.31 L 195.85 164.46 L 194.93 165.69 L 194.10 167.00 L 193.39 168.39 L 192.79 169.85 L 192.31 171.37 L 191.97 172.93 L 191.76 174.53 L 191.69 176.15 L 191.77 177.79 L 191.99 179.42 L 192.36 181.04 L 192.88 182.62 L 193.54 184.17 L 194.35 185.65 L 195.29 187.07 L 196.37 188.40 L 197.57 189.62 L 198.89 190.74 L 200.31 191.73 L 201.82 192.59 L 203.40 193.31 L 205.06 193.87 L 206.76 194.28 L 208.49 194.53 L 210.24 194.61 L 211.99 194.53 L 213.72 194.28 L 215.42 193.87 L 217.08 193.31 L 218.66 192.59 L 220.17 191.73 L 221.59 190.74 L 222.91 189.62 L 224.11 188.40 L 225.19 187.07 L 226.13 185.65 L 226.94 184.17 L 227.60 182.62 L 228.12 181.04 L 228.49 179.42 L 228.71 177.79 L 228.79 176.15 L 228.72 174.53 L 228.51 172.93 L 228.17 171.37 L 227.69 169.85 L 227.09 168.39 L 226.38 167.00 L 225.55 165.69 L 224.63 164.46 L 223.61 163.31 L 222.51 162.26 L 221.33 161.31 L 220.09 160.46 L 218.79 159.73 L 217.44 159.09 L 216.05 158.58 L 214.62 158.17 L 213.18 157.88 L 211.71 157.71 L 210.24 157.65 L 210.24 159.74 L 210.24 167.14 L 210.24 174.53 z M 219.18 72.30 L 228.06 73.49 L 236.79 75.44 L 245.32 78.14 L 253.58 81.58 L 261.51 85.72 L 269.28 90.22 L 274.72 93.58 L 276.90 95.09 L 283.87 100.90 L 289.93 107.66 L 295.28 114.99 L 299.90 122.76 L 300.59 124.06 L 303.82 130.89 L 307.09 139.28 L 309.61 147.90 L 311.39 156.69 L 312.44 165.59 L 312.78 174.53 L 312.62 183.48 L 311.84 192.44 L 310.73 199.28 L 310.30 201.34 L 307.97 210.10 L 304.71 218.58 L 300.65 226.72 L 295.81 234.44 L 290.26 241.67 L 284.10 248.39 L 277.33 254.48 L 270.01 259.89 L 262.29 264.69 L 254.23 268.87 L 245.84 272.34 L 237.18 275.07 L 228.32 277.04 L 219.31 278.23 L 210.24 278.64 L 201.17 278.22 L 192.18 276.97 L 183.34 274.92 L 174.72 272.10 L 166.40 268.54 L 158.45 264.23 L 154.82 261.92 L 150.94 259.22 L 143.88 253.61 L 137.28 247.49 L 131.14 240.90 L 125.54 233.84 L 120.62 226.27 L 120.62 226.27 L 120.62 226.27 L 116.53 218.23 L 113.23 209.84 L 110.62 201.22 L 108.67 192.44 L 107.50 183.52 L 107.10 174.53 L 107.50 165.54 L 108.67 156.62 L 110.61 147.83 L 113.32 139.25 L 116.76 130.94 L 120.91 122.95 L 125.74 115.36 L 131.22 108.22 L 137.30 101.58 L 143.94 95.51 L 151.10 90.07 L 158.72 85.29 L 166.72 81.20 L 175.05 77.84 L 183.64 75.26 L 192.42 73.45 L 201.30 72.29 L 210.24 71.90 L 210.24 71.04 L 210.24 63.65 L 210.24 56.26 L 210.24 48.86 L 210.24 41.47 L 198.64 41.98 L 187.14 43.49 L 175.80 46.01 L 164.73 49.50 L 154.01 53.94 L 143.71 59.30 L 133.92 65.53 L 124.71 72.60 L 116.16 80.44 L 108.31 89.00 L 101.25 98.21 L 95.01 108.00 L 89.65 118.30 L 85.21 129.02 L 81.72 140.09 L 79.21 151.42 L 77.69 162.93 L 77.18 174.53 L 77.69 186.12 L 79.21 197.63 L 81.72 208.97 L 85.21 220.04 L 89.65 230.76 L 95.01 241.06 L 101.25 250.85 L 108.31 260.05 L 116.16 268.61 L 124.71 276.45 L 133.92 283.52 L 143.71 289.76 L 154.01 295.12 L 164.73 299.56 L 175.80 303.05 L 187.14 305.56 L 198.64 307.08 L 210.24 307.58 L 221.84 307.08 L 233.34 305.56 L 244.68 303.05 L 255.75 299.56 L 266.47 295.12 L 276.77 289.76 L 286.56 283.52 L 295.77 276.45 L 304.32 268.61 L 312.17 260.05 L 319.23 250.85 L 325.47 241.06 L 330.83 230.76 L 335.27 220.04 L 338.76 208.97 L 341.27 197.63 L 342.79 186.12 L 343.30 174.53 L 342.79 162.93 L 341.27 151.42 L 338.76 140.09 L 335.27 129.02 L 330.83 118.30 L 325.47 108.00 L 319.23 98.21 L 312.17 89.00 L 304.32 80.44 L 295.77 72.60 L 286.56 65.53 L 276.77 59.30 L 266.47 53.94 L 255.75 49.50 L 244.68 46.01 L 233.34 43.49 L 221.84 41.98 L 210.24 41.47 L 210.24 48.86 L 210.24 56.26 L 210.24 63.65 L 210.24 71.04 L 210.24 71.90 z" clip-path="url(#pded382b021)" fill="#228c8d"/>
<path d="M 219.43 69.48 L 228.55 70.70 L 237.52 72.70 L 246.30 75.46 L 254.80 78.97 L 262.97 83.20 L 270.98 87.78 L 278.88 92.73 L 286.11 98.66 L 292.36 105.62 L 297.88 113.16 L 302.65 121.17 L 306.71 129.54 L 310.08 138.19 L 312.67 147.08 L 314.49 156.15 L 315.55 165.31 L 315.90 174.53 L 315.74 183.76 L 314.97 192.99 L 313.39 202.17 L 311.01 211.21 L 307.65 219.95 L 303.46 228.35 L 298.46 236.30 L 292.75 243.76 L 286.40 250.69 L 279.40 256.95 L 271.82 262.48 L 263.85 267.38 L 255.52 271.64 L 246.87 275.16 L 237.95 277.94 L 228.84 280.00 L 219.58 281.30 L 210.24 281.74 L 200.90 281.31 L 191.64 280.01 L 182.55 277.89 L 173.68 274.97 L 165.12 271.29 L 156.95 266.84 L 149.22 261.68 L 141.95 255.91 L 135.17 249.60 L 128.84 242.83 L 123.05 235.58 L 117.98 227.79 L 113.75 219.52 L 110.31 210.90 L 107.58 202.04 L 105.60 192.98 L 104.45 183.78 L 104.07 174.53 L 104.47 165.27 L 105.68 156.09 L 107.69 147.05 L 110.47 138.22 L 114.02 129.66 L 118.31 121.45 L 123.31 113.66 L 128.97 106.34 L 135.24 99.53 L 142.08 93.30 L 149.44 87.70 L 157.27 82.79 L 165.50 78.58 L 174.06 75.13 L 182.90 72.50 L 191.92 70.66 L 201.05 69.47 L 210.24 69.07 L 210.24 63.65 L 210.24 56.26 L 210.24 48.86 L 210.24 41.47 L 198.64 41.98 L 187.14 43.49 L 175.80 46.01 L 164.73 49.50 L 154.01 53.94 L 143.71 59.30 L 133.92 65.53 L 124.71 72.60 L 116.16 80.44 L 108.31 89.00 L 101.25 98.21 L 95.01 108.00 L 89.65 118.30 L 85.21 129.02 L 81.72 140.09 L 79.21 151.42 L 77.69 162.93 L 77.18 174.53 L 77.69 186.12 L 79.21 197.63 L 81.72 208.97 L 85.21 220.04 L 89.65 230.76 L 95.01 241.06 L 101.25 250.85 L 108.31 260.05 L 116.16 268.61 L 124.71 276.45 L 133.92 283.52 L 143.71 289.76 L 154.01 295.12 L 164.73 299.56 L 175.80 303.05 L 187.14 305.56 L 198.64 307.08 L 210.24 307.58 L 221.84 307.08 L 233.34 305.56 L 244.68 303.05 L 255.75 299.56 L 266.47 295.12 L 276.77 289.76 L 286.56 283.52 L 295.77 276.45 L 304.32 268.61 L 312.17 260.05 L 319.23 250.85 L 325.47 241.06 L 330.83 230.76 L 335.27 220.04 L 338.76 208.97 L 341.27 197.63 L 342.79 186.12 L 343.30 174.53 L 342.79 162.93 L 341.27 151.42 L 338.76 140.09 L 335.27 129.02 L 330.83 118.30 L 325.47 108.00 L 319.23 98.21 L 312.17 89.00 L 304.32 80.44 L 295.77 72.60 L 286.56 65.53 L 276.77 59.30 L 266.47 53.94 L 255.75 49.50 L 244.68 46.01 L 233.34 43.49 L 221.84 41.98 L 210.24 41.47 L 210.24 48.86 L 210.24 56.26 L 210.24 63.65 L 210.24 69.07 z" clip-path="url(#pded382b021)" fill="#1f948c"/>
<path d="M 219.67 66.70 L 229.03 67.97 L 238.24 70.04 L 247.24 72.86 L 255.98 76.45 L 264.37 80.77 L 272.65 85.39 L 280.86 90.37 L 288.35 96.42 L 294.80 103.58 L 300.48 111.34 L 305.41 119.58 L 309.59 128.20 L 313.06 137.11 L 315.72 146.27 L 317.57 155.60 L 318.66 165.04 L 319.01 174.53 L 318.86 184.03 L 318.09 193.55 L 316.49 203.00 L 314.05 212.31 L 310.59 221.32 L 306.26 229.97 L 306.19 230.10 L 301.12 238.17 L 295.23 245.84 L 288.69 252.98 L 285.40 256.05 L 281.46 259.41 L 273.64 265.07 L 265.40 270.07 L 256.81 274.40 L 247.89 277.98 L 238.72 280.82 L 229.36 282.97 L 219.85 284.36 L 210.24 284.85 L 200.63 284.39 L 191.10 283.05 L 181.75 280.85 L 172.64 277.84 L 163.84 274.04 L 155.44 269.45 L 147.50 264.14 L 140.03 258.20 L 133.06 251.71 L 126.54 244.76 L 120.57 237.31 L 115.35 229.31 L 110.98 220.82 L 107.40 211.96 L 104.58 202.84 L 102.58 193.51 L 101.44 184.05 L 101.09 174.53 L 101.50 165.01 L 102.75 155.57 L 104.81 146.28 L 107.67 137.20 L 111.32 128.40 L 115.75 119.98 L 120.92 111.99 L 126.76 104.48 L 133.21 97.50 L 140.24 91.11 L 147.80 85.36 L 155.84 80.31 L 164.29 75.99 L 173.08 72.43 L 182.17 69.75 L 191.44 67.88 L 200.80 66.67 L 210.24 66.26 L 210.24 63.65 L 210.24 56.26 L 210.24 48.86 L 210.24 41.47 L 198.64 41.98 L 187.14 43.49 L 175.80 46.01 L 164.73 49.50 L 154.01 53.94 L 143.71 59.30 L 133.92 65.53 L 124.71 72.60 L 116.16 80.44 L 108.31 89.00 L 101.25 98.21 L 95.01 108.00 L 89.65 118.30 L 85.21 129.02 L 81.72 140.09 L 79.21 151.42 L 77.69 162.93 L 77.18 174.53 L 77.69 186.12 L 79.21 197.63 L 81.72 208.97 L 85.21 220.04 L 89.65 230.76 L 95.01 241.06 L 101.25 250.85 L 108.31 260.05 L 116.16 268.61 L 124.71 276.45 L 133.92 283.52 L 143.71 289.76 L 154.01 295.12 L 164.73 299.56 L 175.80 303.05 L 187.14 305.56 L 198.64 307.08 L 210.24 307.58 L 221.84 307.08 L 233.34 305.56 L 244.68 303.05 L 255.75 299.56 L 266.47 295.12 L 276.77 289.76 L 286.56 283.52 L 295.77 276.45 L 304.32 268.61 L 312.17 260.05 L 319.23 250.85 L 325.47 241.06 L 330.83 230.76 L 335.27 220.04 L 338.76 208.97 L 341.27 197.63 L 342.79 186.12 L 343.30 174.53 L 342.79 162.93 L 341.27 151.42 L 338.76 140.09 L 335.27 129.02 L 330.83 118.30 L 325.47 108.00 L 319.23 98.21 L 312.17 89.00 L 304.32 80.44 L 295.77 72.60 L 286.56 65.53 L 276.77 59.30 L 266.47 53.94 L 255.75 49.50 L 244.68 46.01 L 233.34 43.49 L 221.84 41.98 L 210.24 41.47 L 210.24 48.86 L 210.24 56.26 L 210.24 63.65 L 210.24 66.26 z" clip-path="url(#pded382b021)" fill="#1e9c89"/>
<path d="M 219.92 63.90 L 229.51 65.24 L 238.95 67.37 L 248.19 70.26 L 257.15 73.92 L 265.78 78.32 L 274.35 82.97 L 282.91 87.92 L 290.71 94.06 L 297.35 101.44 L 303.20 109.43 L 308.27 117.93 L 312.57 126.81 L 316.13 135.99 L 318.84 145.43 L 320.72 155.05 L 321.82 164.77 L 322.17 174.53 L 322.06 184.31 L 321.32 194.11 L 319.72 203.86 L 317.25 213.48 L 313.69 222.77 L 309.24 231.69 L 303.94 240.14 L 297.87 248.05 L 291.12 255.41 L 283.65 262.02 L 275.55 267.80 L 267.03 272.89 L 258.16 277.29 L 248.96 280.92 L 239.52 283.82 L 229.91 286.06 L 220.13 287.56 L 210.24 288.10 L 200.35 287.63 L 190.55 286.22 L 180.92 283.94 L 171.55 280.82 L 162.51 276.89 L 153.88 272.15 L 145.73 266.66 L 138.07 260.54 L 130.90 253.87 L 124.19 246.73 L 118.02 239.10 L 112.63 230.88 L 108.12 222.15 L 104.41 213.05 L 101.49 203.67 L 99.46 194.06 L 98.37 184.32 L 98.04 174.53 L 98.47 164.75 L 99.74 155.04 L 101.86 145.49 L 104.81 136.15 L 108.56 127.11 L 113.14 118.47 L 118.48 110.28 L 124.51 102.59 L 131.15 95.44 L 138.38 88.88 L 146.14 82.99 L 154.39 77.80 L 163.06 73.36 L 172.09 69.71 L 181.42 66.98 L 190.95 65.10 L 200.56 63.86 L 210.24 63.44 L 210.24 56.26 L 210.24 48.86 L 210.24 41.47 L 198.64 41.98 L 187.14 43.49 L 175.80 46.01 L 164.73 49.50 L 154.01 53.94 L 143.71 59.30 L 133.92 65.53 L 124.71 72.60 L 116.16 80.44 L 108.31 89.00 L 101.25 98.21 L 95.01 108.00 L 89.65 118.30 L 85.21 129.02 L 81.72 140.09 L 79.21 151.42 L 77.69 162.93 L 77.18 174.53 L 77.69 186.12 L 79.21 197.63 L 81.72 208.97 L 85.21 220.04 L 89.65 230.76 L 95.01 241.06 L 101.25 250.85 L 108.31 260.05 L 116.16 268.61 L 124.71 276.45 L 133.92 283.52 L 143.71 289.76 L 154.01 295.12 L 164.73 299.56 L 175.80 303.05 L 187.14 305.56 L 198.64 307.08 L 210.24 307.58 L 221.84 307.08 L 233.34 305.56 L 244.68 303.05 L 255.75 299.56 L 266.47 295.12 L 276.77 289.76 L 286.56 283.52 L 295.77 276.45 L 304.32 268.61 L 312.17 260.05 L 319.23 250.85 L 325.47 241.06 L 330.83 230.76 L 335.27 220.04 L 338.76 208.97 L 341.27 197.63 L 342.79 186.12 L 343.30 174.53 L 342.79 162.93 L 341.27 151.42 L 338.76 140.09 L 335.27 129.02 L 330.83 118.30 L 325.47 108.00 L 319.23 98.21 L 312.17 89.00 L 304.32 80.44 L 295.77 72.60 L 286.56 65.53 L 276.77 59.30 L 266.47 53.94 L 255.75 49.50 L 244.68 46.01 L 233.34 43.49 L 221.84 41.98 L 210.24 41.47 L 210.24 48.86 L 210.24 56.26 L 210.24 63.44 z" clip-path="url(#pded382b021)" fill="#20a486"/>
<path d="M 220.17 60.97 L 230.02 62.37 L 239.70 64.57 L 249.18 67.53 L 258.39 71.27 L 267.26 75.76 L 276.11 80.45 L 285.01 85.43 L 293.09 91.68 L 299.92 99.27 L 305.96 107.50 L 311.19 116.25 L 315.62 125.39 L 319.28 134.84 L 322.06 144.57 L 323.98 154.47 L 325.10 164.48 L 325.46 174.53 L 325.36 184.60 L 324.63 194.70 L 323.01 204.74 L 320.48 214.65 L 316.81 224.22 L 312.22 233.41 L 306.76 242.11 L 300.50 250.26 L 293.55 257.84 L 285.85 264.63 L 277.47 270.54 L 268.67 275.73 L 259.52 280.21 L 250.05 283.89 L 240.34 286.86 L 230.46 289.19 L 220.41 290.79 L 210.24 291.39 L 200.06 290.89 L 189.98 289.44 L 180.08 287.07 L 170.45 283.84 L 161.15 279.80 L 152.29 274.90 L 143.91 269.26 L 136.04 262.95 L 128.68 256.09 L 121.77 248.77 L 115.40 240.93 L 109.85 232.49 L 105.19 223.51 L 101.34 214.16 L 98.31 204.52 L 96.27 194.62 L 95.20 184.59 L 94.89 174.53 L 95.33 164.47 L 96.65 154.50 L 98.82 144.67 L 101.85 135.08 L 105.71 125.79 L 110.44 116.91 L 115.95 108.51 L 122.17 100.63 L 129.02 93.31 L 136.44 86.58 L 144.42 80.52 L 152.89 75.19 L 161.79 70.62 L 171.06 66.88 L 180.65 64.09 L 190.43 62.19 L 200.30 60.92 L 210.24 60.48 L 210.24 56.26 L 210.24 48.86 L 210.24 41.47 L 198.64 41.98 L 187.14 43.49 L 175.80 46.01 L 164.73 49.50 L 154.01 53.94 L 143.71 59.30 L 133.92 65.53 L 124.71 72.60 L 116.16 80.44 L 108.31 89.00 L 101.25 98.21 L 95.01 108.00 L 89.65 118.30 L 85.21 129.02 L 81.72 140.09 L 79.21 151.42 L 77.69 162.93 L 77.18 174.53 L 77.69 186.12 L 79.21 197.63 L 81.72 208.97 L 85.21 220.04 L 89.65 230.76 L 95.01 241.06 L 101.25 250.85 L 108.31 260.05 L 116.16 268.61 L 124.71 276.45 L 133.92 283.52 L 143.71 289.76 L 154.01 295.12 L 164.73 299.56 L 175.80 303.05 L 187.14 305.56 L 198.64 307.08 L 210.24 307.58 L 221.84 307.08 L 233.34 305.56 L 244.68 303.05 L 255.75 299.56 L 266.47 295.12 L 276.77 289.76 L 286.56 283.52 L 295.77 276.45 L 304.32 268.61 L 312.17 260.05 L 319.23 250.85 L 325.47 241.06 L 330.83 230.76 L 335.27 220.04 L 338.76 208.97 L 341.27 197.63 L 342.79 186.12 L 343.30 174.53 L 342.79 162.93 L 341.27 151.42 L 338.76 140.09 L 335.27 129.02 L 330.83 118.30 L 325.47 108.00 L 319.23 98.21 L 312.17 89.00 L 304.32 80.44 L 295.77 72.60 L 286.56 65.53 L 276.77 59.30 L 266.47 53.94 L 255.75 49.50 L 244.68 46.01 L 233.34 43.49 L 221.84 41.98 L 210.24 41.47 L 210.24 48.86 L 210.24 56.26 L 210.24 60.48 z" clip-path="url(#pded382b021)" fill="#25ac82"/>
<path d="M 220.43 58.04 L 230.52 59.50 L 240.45 61.77 L 250.18 64.80 L 259.63 68.62 L 268.74 73.20 L 277.87 77.94 L 279.99 79.01 L 286.70 83.41 L 294.70 90.07 L 301.74 97.75 L 308.03 106.05 L 313.53 114.90 L 318.20 124.18 L 322.06 133.83 L 325.01 143.77 L 327.08 153.93 L 328.28 164.20 L 328.68 174.53 L 328.48 184.87 L 327.53 195.21 L 325.64 205.45 L 322.81 215.50 L 318.95 225.22 L 314.20 234.55 L 308.60 243.40 L 302.21 251.70 L 295.11 259.40 L 287.28 266.34 L 278.81 272.45 L 269.88 277.83 L 260.57 282.46 L 250.91 286.28 L 241.00 289.33 L 230.90 291.68 L 220.63 293.25 L 210.24 293.85 L 199.84 293.38 L 189.53 291.96 L 179.40 289.61 L 169.53 286.39 L 159.98 282.31 L 150.86 277.38 L 142.22 271.67 L 134.10 265.27 L 126.52 258.25 L 119.47 250.69 L 113.04 242.58 L 107.41 233.90 L 102.61 224.72 L 98.62 215.15 L 95.49 205.28 L 93.33 195.14 L 92.17 184.86 L 91.82 174.53 L 92.27 164.21 L 93.62 153.97 L 95.86 143.88 L 98.96 134.03 L 102.93 124.49 L 107.76 115.36 L 110.39 111.14 L 113.43 106.74 L 119.84 98.68 L 126.89 91.17 L 134.51 84.28 L 142.69 78.06 L 151.38 72.58 L 160.51 67.89 L 170.03 64.04 L 179.87 61.20 L 189.92 59.27 L 200.04 57.97 L 210.24 57.53 L 210.24 56.26 L 210.24 48.86 L 210.24 41.47 L 198.64 41.98 L 187.14 43.49 L 175.80 46.01 L 164.73 49.50 L 154.01 53.94 L 143.71 59.30 L 133.92 65.53 L 124.71 72.60 L 116.16 80.44 L 108.31 89.00 L 101.25 98.21 L 95.01 108.00 L 89.65 118.30 L 85.21 129.02 L 81.72 140.09 L 79.21 151.42 L 77.69 162.93 L 77.18 174.53 L 77.69 186.12 L 79.21 197.63 L 81.72 208.97 L 85.21 220.04 L 89.65 230.76 L 95.01 241.06 L 101.25 250.85 L 108.31 260.05 L 116.16 268.61 L 124.71 276.45 L 133.92 283.52 L 143.71 289.76 L 154.01 295.12 L 164.73 299.56 L 175.80 303.05 L 187.14 305.56 L 198.64 307.08 L 210.24 307.58 L 221.84 307.08 L 233.34 305.56 L 244.68 303.05 L 255.75 299.56 L 266.47 295.12 L 276.77 289.76 L 286.56 283.52 L 295.77 276.45 L 304.32 268.61 L 312.17 260.05 L 319.23 250.85 L 325.47 241.06 L 330.83 230.76 L 335.27 220.04 L 338.76 208.97 L 341.27 197.63 L 342.79 186.12 L 343.30 174.53 L 342.79 162.93 L 341.27 151.42 L 338.76 140.09 L 335.27 129.02 L 330.83 118.30 L 325.47 108.00 L 319.23 98.21 L 312.17 89.00 L 304.32 80.44 L 295.77 72.60 L 286.56 65.53 L 276.77 59.30 L 266.47 53.94 L 255.75 49.50 L 244.68 46.01 L 233.34 43.49 L 221.84 41.98 L 210.24 41.47 L 210.24 48.86 L 210.24 56.26 L 210.24 57.53 z" clip-path="url(#pded382b021)" fill="#2fb47c"/>
<path d="M 220.65 55.59 L 230.94 57.13 L 241.07 59.47 L 250.98 62.59 L 260.60 66.53 L 269.86 71.26 L 278.94 76.42 L 287.80 82.10 L 295.94 88.83 L 303.15 96.57 L 309.61 104.95 L 315.27 113.89 L 320.11 123.30 L 324.08 133.09 L 327.15 143.20 L 329.32 153.53 L 330.59 164.00 L 331.01 174.53 L 330.76 185.07 L 329.72 195.60 L 327.73 206.01 L 324.80 216.22 L 320.84 226.10 L 315.99 235.58 L 310.29 244.59 L 303.78 253.02 L 296.53 260.82 L 288.53 267.83 L 279.87 273.97 L 270.77 279.36 L 261.28 283.98 L 251.46 287.78 L 241.41 290.84 L 231.18 293.28 L 220.78 295.00 L 210.24 295.69 L 199.68 295.23 L 189.21 293.81 L 178.91 291.46 L 168.87 288.20 L 159.16 284.07 L 149.90 279.04 L 141.14 273.21 L 132.91 266.68 L 125.23 259.53 L 118.10 251.84 L 111.61 243.59 L 105.91 234.76 L 101.00 225.47 L 96.85 215.80 L 93.59 205.78 L 91.36 195.49 L 90.13 185.04 L 89.75 174.53 L 90.21 164.03 L 91.58 153.61 L 93.86 143.34 L 97.02 133.32 L 101.05 123.61 L 105.99 114.34 L 111.74 105.56 L 118.23 97.32 L 125.37 89.66 L 133.11 82.61 L 141.43 76.25 L 150.26 70.64 L 159.55 65.83 L 169.24 61.87 L 179.25 58.88 L 189.48 56.81 L 199.82 55.48 L 210.24 55.02 L 210.24 48.86 L 210.24 41.47 L 198.64 41.98 L 187.14 43.49 L 175.80 46.01 L 164.73 49.50 L 154.01 53.94 L 143.71 59.30 L 133.92 65.53 L 124.71 72.60 L 116.16 80.44 L 108.31 89.00 L 101.25 98.21 L 95.01 108.00 L 89.65 118.30 L 85.21 129.02 L 81.72 140.09 L 79.21 151.42 L 77.69 162.93 L 77.18 174.53 L 77.69 186.12 L 79.21 197.63 L 81.72 208.97 L 85.21 220.04 L 89.65 230.76 L 95.01 241.06 L 101.25 250.85 L 108.31 260.05 L 116.16 268.61 L 124.71 276.45 L 133.92 283.52 L 143.71 289.76 L 154.01 295.12 L 164.73 299.56 L 175.80 303.05 L 187.14 305.56 L 198.64 307.08 L 210.24 307.58 L 221.84 307.08 L 233.34 305.56 L 244.68 303.05 L 255.75 299.56 L 266.47 295.12 L 276.77 289.76 L 286.56 283.52 L 295.77 276.45 L 304.32 268.61 L 312.17 260.05 L 319.23 250.85 L 325.47 241.06 L 330.83 230.76 L 335.27 220.04 L 338.76 208.97 L 341.27 197.63 L 342.79 186.12 L 343.30 174.53 L 342.79 162.93 L 341.27 151.42 L 338.76 140.09 L 335.27 129.02 L 330.83 118.30 L 325.47 108.00 L 319.23 98.21 L 312.17 89.00 L 304.32 80.44 L 295.77 72.60 L 286.56 65.53 L 276.77 59.30 L 266.47 53.94 L 255.75 49.50 L 244.68 46.01 L 233.34 43.49 L 221.84 41.98 L 210.24 41.47 L 210.24 48.86 L 210.24 55.02 z" clip-path="url(#pded382b021)" fill="#3bbb75"/>
<path d="M 220.83 53.53 L 231.27 55.26 L 241.53 57.74 L 251.58 60.94 L 261.33 64.96 L 270.72 69.77 L 279.91 75.02 L 288.90 80.79 L 297.18 87.59 L 304.55 95.39 L 311.18 103.85 L 317.02 112.88 L 322.01 122.41 L 326.11 132.35 L 329.30 142.63 L 331.55 153.14 L 332.90 163.80 L 333.34 174.53 L 333.04 185.27 L 331.91 195.98 L 329.82 206.57 L 326.79 216.95 L 322.74 226.99 L 317.79 236.62 L 311.99 245.77 L 305.36 254.34 L 297.96 262.25 L 289.78 269.32 L 280.94 275.49 L 271.65 280.90 L 261.99 285.51 L 252.01 289.28 L 241.81 292.36 L 231.46 294.88 L 220.93 296.74 L 210.24 297.53 L 199.52 297.08 L 188.88 295.67 L 178.42 293.30 L 168.21 290.01 L 158.34 285.82 L 148.94 280.71 L 140.06 274.76 L 131.73 268.10 L 123.95 260.82 L 116.74 252.99 L 110.18 244.59 L 104.41 235.63 L 99.39 226.22 L 95.08 216.44 L 91.70 206.29 L 89.39 195.84 L 88.09 185.21 L 87.68 174.53 L 88.15 163.85 L 89.54 153.25 L 91.86 142.81 L 95.07 132.61 L 99.18 122.74 L 104.21 113.31 L 110.08 104.39 L 116.68 96.03 L 123.95 88.23 L 131.81 81.06 L 140.25 74.58 L 149.23 68.85 L 158.67 63.94 L 168.52 59.90 L 178.70 56.83 L 189.11 54.69 L 199.64 53.33 L 210.24 52.86 L 210.24 48.86 L 210.24 41.47 L 198.64 41.98 L 187.14 43.49 L 175.80 46.01 L 164.73 49.50 L 154.01 53.94 L 143.71 59.30 L 133.92 65.53 L 124.71 72.60 L 116.16 80.44 L 108.31 89.00 L 101.25 98.21 L 95.01 108.00 L 89.65 118.30 L 85.21 129.02 L 81.72 140.09 L 79.21 151.42 L 77.69 162.93 L 77.18 174.53 L 77.69 186.12 L 79.21 197.63 L 81.72 208.97 L 85.21 220.04 L 89.65 230.76 L 95.01 241.06 L 101.25 250.85 L 108.31 260.05 L 116.16 268.61 L 124.71 276.45 L 133.92 283.52 L 143.71 289.76 L 154.01 295.12 L 164.73 299.56 L 175.80 303.05 L 187.14 305.56 L 198.64 307.08 L 210.24 307.58 L 221.84 307.08 L 233.34 305.56 L 244.68 303.05 L 255.75 299.56 L 266.47 295.12 L 276.77 289.76 L 286.56 283.52 L 295.77 276.45 L 304.32 268.61 L 312.17 260.05 L 319.23 250.85 L 325.47 241.06 L 330.83 230.76 L 335.27 220.04 L 338.76 208.97 L 341.27 197.63 L 342.79 186.12 L 343.30 174.53 L 342.79 162.93 L 341.27 151.42 L 338.76 140.09 L 335.27 129.02 L 330.83 118.30 L 325.47 108.00 L 319.23 98.21 L 312.17 89.00 L 304.32 80.44 L 295.77 72.60 L 286.56 65.53 L 276.77 59.30 L 266.47 53.94 L 255.75 49.50 L 244.68 46.01 L 233.34 43.49 L 221.84 41.98 L 210.24 41.47 L 210.24 48.86 L 210.24 52.86 z" clip-path="url(#pded382b021)" fill="#4cc26c"/>
<path d="M 221.01 51.48 L 231.60 53.40 L 242.00 56.01 L 252.18 59.29 L 262.06 63.39 L 271.57 68.29 L 280.89 73.63 L 290.00 79.48 L 298.42 86.35 L 305.95 94.22 L 312.75 102.75 L 318.76 111.87 L 323.91 121.52 L 328.14 131.62 L 331.44 142.05 L 333.79 152.74 L 335.20 163.60 L 335.67 174.53 L 335.32 185.47 L 334.87 190.60 L 334.10 196.37 L 331.90 207.13 L 328.75 217.66 L 324.60 227.86 L 319.56 237.64 L 313.66 246.94 L 306.90 255.64 L 299.37 263.65 L 291.03 270.81 L 290.61 271.13 L 282.00 277.02 L 272.54 282.44 L 262.70 287.03 L 252.56 290.79 L 242.22 293.87 L 231.74 296.48 L 221.09 298.49 L 210.24 299.36 L 199.36 298.94 L 188.55 297.52 L 177.92 295.14 L 167.55 291.82 L 157.52 287.58 L 147.98 282.37 L 138.98 276.30 L 130.54 269.51 L 122.67 262.10 L 115.37 254.13 L 108.75 245.59 L 102.91 236.49 L 97.77 226.97 L 93.31 217.09 L 89.80 206.80 L 87.42 196.18 L 86.05 185.39 L 85.61 174.53 L 86.09 163.67 L 87.50 152.89 L 89.86 142.27 L 93.13 131.90 L 97.30 121.87 L 102.43 112.28 L 108.41 103.23 L 115.14 94.73 L 122.52 86.81 L 130.51 79.51 L 139.08 72.90 L 148.19 67.06 L 157.79 62.05 L 167.80 57.92 L 178.15 54.78 L 188.73 52.57 L 199.45 51.17 L 210.24 50.70 L 210.24 48.86 L 210.24 41.47 L 198.64 41.98 L 187.14 43.49 L 175.80 46.01 L 164.73 49.50 L 154.01 53.94 L 143.71 59.30 L 133.92 65.53 L 124.71 72.60 L 116.16 80.44 L 108.31 89.00 L 101.25 98.21 L 95.01 108.00 L 89.65 118.30 L 85.21 129.02 L 81.72 140.09 L 79.21 151.42 L 77.69 162.93 L 77.18 174.53 L 77.69 186.12 L 79.21 197.63 L 81.72 208.97 L 85.21 220.04 L 89.65 230.76 L 95.01 241.06 L 101.25 250.85 L 108.31 260.05 L 116.16 268.61 L 124.71 276.45 L 133.92 283.52 L 143.71 289.76 L 154.01 295.12 L 164.73 299.56 L 175.80 303.05 L 187.14 305.56 L 198.64 307.08 L 210.24 307.58 L 221.84 307.08 L 233.34 305.56 L 244.68 303.05 L 255.75 299.56 L 266.47 295.12 L 276.77 289.76 L 286.56 283.52 L 295.77 276.45 L 304.32 268.61 L 312.17 260.05 L 319.23 250.85 L 325.47 241.06 L 330.83 230.76 L 335.27 220.04 L 338.76 208.97 L 341.27 197.63 L 342.79 186.12 L 343.30 174.53 L 342.79 162.93 L 341.27 151.42 L 338.76 140.09 L 335.27 129.02 L 330.83 118.30 L 325.47 108.00 L 319.23 98.21 L 312.17 89.00 L 304.32 80.44 L 295.77 72.60 L 286.56 65.53 L 276.77 59.30 L 266.47 53.94 L 255.75 49.50 L 244.68 46.01 L 233.34 43.49 L 221.84 41.98 L 210.24 41.47 L 210.24 48.86 L 210.24 50.70 z" clip-path="url(#pded382b021)" fill="#5ec962"/>
<path d="M 221.19 49.42 L 231.93 51.53 L 242.46 54.27 L 252.79 57.63 L 262.80 61.82 L 272.43 66.81 L 281.87 72.23 L 289.89 77.33 L 291.09 78.18 L 299.63 85.14 L 307.31 93.08 L 314.26 101.69 L 320.43 110.91 L 325.71 120.68 L 330.05 130.92 L 333.45 141.51 L 335.90 152.37 L 337.37 163.41 L 337.86 174.53 L 337.46 185.66 L 336.15 196.73 L 333.86 207.65 L 330.61 218.34 L 326.38 228.69 L 321.25 238.62 L 315.25 248.06 L 308.38 256.88 L 300.71 264.99 L 292.21 272.22 L 283.03 278.48 L 273.41 283.94 L 263.41 288.55 L 260.34 289.77 L 253.10 292.29 L 242.62 295.38 L 232.03 298.08 L 228.83 298.81 L 221.24 300.21 L 210.24 301.15 L 199.20 300.73 L 188.24 299.32 L 177.44 296.92 L 166.91 293.57 L 156.73 289.28 L 147.04 283.99 L 137.91 277.82 L 129.36 270.92 L 121.38 263.39 L 121.38 263.39 L 114.00 255.28 L 107.32 246.60 L 101.41 237.36 L 101.41 237.36 L 96.17 227.72 L 91.58 217.72 L 87.97 207.29 L 85.51 196.52 L 84.07 185.57 L 83.60 174.53 L 84.09 163.49 L 85.53 152.54 L 87.92 141.75 L 91.24 131.22 L 95.49 121.02 L 100.70 111.28 L 106.78 102.08 L 113.62 93.45 L 121.11 85.40 L 129.22 77.97 L 137.92 71.25 L 147.18 65.30 L 156.92 60.19 L 167.09 55.98 L 177.61 52.75 L 188.36 50.46 L 199.26 49.04 L 210.24 48.56 L 210.24 41.47 L 198.64 41.98 L 187.14 43.49 L 175.80 46.01 L 164.73 49.50 L 154.01 53.94 L 143.71 59.30 L 133.92 65.53 L 124.71 72.60 L 116.16 80.44 L 108.31 89.00 L 101.25 98.21 L 95.01 108.00 L 89.65 118.30 L 85.21 129.02 L 81.72 140.09 L 79.21 151.42 L 77.69 162.93 L 77.18 174.53 L 77.69 186.12 L 79.21 197.63 L 81.72 208.97 L 85.21 220.04 L 89.65 230.76 L 95.01 241.06 L 101.25 250.85 L 108.31 260.05 L 116.16 268.61 L 124.71 276.45 L 133.92 283.52 L 143.71 289.76 L 154.01 295.12 L 164.73 299.56 L 175.80 303.05 L 187.14 305.56 L 198.64 307.08 L 210.24 307.58 L 221.84 307.08 L 233.34 305.56 L 244.68 303.05 L 255.75 299.56 L 266.47 295.12 L 276.77 289.76 L 286.56 283.52 L 295.77 276.45 L 304.32 268.61 L 312.17 260.05 L 319.23 250.85 L 325.47 241.06 L 330.83 230.76 L 335.27 220.04 L 338.76 208.97 L 341.27 197.63 L 342.79 186.12 L 343.30 174.53 L 342.79 162.93 L 341.27 151.42 L 338.76 140.09 L 335.27 129.02 L 330.83 118.30 L 325.47 108.00 L 319.23 98.21 L 312.17 89.00 L 304.32 80.44 L 295.77 72.60 L 286.56 65.53 L 276.77 59.30 L 266.47 53.94 L 255.75 49.50 L 244.68 46.01 L 233.34 43.49 L 221.84 41.98 L 210.24 41.47 L 210.24 48.56 L 218.94 49.17 z" clip-path="url(#pded382b021)" fill="#70cf57"/>
<path d="M 221.35 47.49 L 232.25 49.73 L 242.92 52.57 L 253.38 56.00 L 263.52 60.27 L 273.28 65.35 L 282.82 70.88 L 292.13 76.93 L 300.80 83.97 L 308.63 91.97 L 315.75 100.65 L 322.07 109.96 L 327.50 119.85 L 331.95 130.23 L 335.45 140.98 L 337.99 152.00 L 339.52 163.22 L 340.03 174.53 L 339.59 185.84 L 338.20 197.09 L 335.82 208.18 L 332.47 219.02 L 328.16 229.52 L 322.94 239.59 L 316.84 249.17 L 309.86 258.12 L 302.05 266.33 L 293.39 273.63 L 284.03 279.92 L 274.25 285.39 L 264.09 290.00 L 253.63 293.74 L 243.02 296.85 L 232.30 299.61 L 221.38 301.86 L 210.24 302.89 L 199.05 302.48 L 187.93 301.07 L 176.98 298.66 L 166.29 295.28 L 155.96 290.94 L 146.14 285.56 L 136.89 279.28 L 128.24 272.25 L 120.17 264.60 L 112.71 256.37 L 105.96 247.55 L 99.99 238.18 L 94.64 228.43 L 89.90 218.33 L 86.18 207.77 L 83.66 196.85 L 82.15 185.73 L 81.66 174.53 L 82.15 163.32 L 83.61 152.20 L 86.04 141.25 L 89.41 130.55 L 93.72 120.20 L 99.03 110.32 L 105.21 100.99 L 112.16 92.23 L 119.77 84.06 L 128.00 76.51 L 136.82 69.68 L 146.21 63.62 L 156.09 58.41 L 166.42 54.13 L 177.09 50.82 L 188.01 48.47 L 199.08 47.02 L 210.24 46.54 L 210.24 41.47 L 198.64 41.98 L 187.14 43.49 L 175.80 46.01 L 164.73 49.50 L 154.01 53.94 L 143.71 59.30 L 133.92 65.53 L 124.71 72.60 L 116.16 80.44 L 108.31 89.00 L 101.25 98.21 L 95.01 108.00 L 89.65 118.30 L 85.21 129.02 L 81.72 140.09 L 79.21 151.42 L 77.69 162.93 L 77.18 174.53 L 77.69 186.12 L 79.21 197.63 L 81.72 208.97 L 85.21 220.04 L 89.65 230.76 L 95.01 241.06 L 101.25 250.85 L 108.31 260.05 L 116.16 268.61 L 124.71 276.45 L 133.92 283.52 L 143.71 289.76 L 154.01 295.12 L 164.73 299.56 L 175.80 303.05 L 187.14 305.56 L 198.64 307.08 L 210.24 307.58 L 221.84 307.08 L 233.34 305.56 L 244.68 303.05 L 255.75 299.56 L 266.47 295.12 L 276.77 289.76 L 286.56 283.52 L 295.77 276.45 L 304.32 268.61 L 312.17 260.05 L 319.23 250.85 L 325.47 241.06 L 330.83 230.76 L 335.27 220.04 L 338.76 208.97 L 341.27 197.63 L 342.79 186.12 L 343.30 174.53 L 342.79 162.93 L 341.27 151.42 L 338.76 140.09 L 335.27 129.02 L 330.83 118.30 L 325.47 108.00 L 319.23 98.21 L 312.17 89.00 L 304.32 80.44 L 295.77 72.60 L 286.56 65.53 L 276.77 59.30 L 266.47 53.94 L 255.75 49.50 L 244.68 46.01 L 233.34 43.49 L 221.84 41.98 L 210.24 41.47 L 210.24 46.54 z" clip-path="url(#pded382b021)" fill="#86d549"/>
<path d="M 221.52 45.55 L 232.56 47.96 L 243.36 50.93 L 253.95 54.44 L 264.21 58.79 L 274.09 63.94 L 283.74 69.56 L 293.17 75.69 L 301.98 82.79 L 309.96 90.85 L 317.23 99.61 L 323.71 109.02 L 329.28 119.02 L 333.85 129.54 L 337.46 140.44 L 340.08 151.63 L 341.67 163.03 L 342.21 174.53 L 341.72 186.03 L 340.25 197.45 L 337.78 208.70 L 334.34 219.70 L 329.94 230.35 L 324.63 240.57 L 318.44 250.29 L 311.34 259.36 L 303.39 267.67 L 294.57 275.03 L 285.04 281.36 L 275.09 286.85 L 264.76 291.45 L 254.15 295.18 L 243.40 298.29 L 232.56 301.14 L 221.52 303.51 L 210.24 304.63 L 198.89 304.24 L 187.62 302.82 L 176.51 300.40 L 165.67 296.99 L 155.18 292.60 L 145.23 287.13 L 135.87 280.74 L 127.12 273.59 L 118.95 265.82 L 111.41 257.45 L 104.60 248.50 L 98.57 239.00 L 93.11 229.15 L 88.23 218.94 L 84.40 208.25 L 81.80 197.18 L 80.24 185.90 L 79.71 174.53 L 80.21 163.15 L 81.70 151.86 L 84.16 140.75 L 87.58 129.89 L 91.96 119.37 L 97.36 109.35 L 103.65 99.89 L 110.71 91.01 L 118.43 82.72 L 126.77 75.05 L 135.72 68.10 L 145.24 61.94 L 155.27 56.64 L 165.74 52.27 L 176.58 48.90 L 187.66 46.48 L 198.91 45.00 L 210.24 44.51 L 210.24 41.47 L 198.64 41.98 L 187.14 43.49 L 175.80 46.01 L 164.73 49.50 L 154.01 53.94 L 143.71 59.30 L 133.92 65.53 L 124.71 72.60 L 116.16 80.44 L 108.31 89.00 L 101.25 98.21 L 95.01 108.00 L 89.65 118.30 L 85.21 129.02 L 81.72 140.09 L 79.21 151.42 L 77.69 162.93 L 77.18 174.53 L 77.69 186.12 L 79.21 197.63 L 81.72 208.97 L 85.21 220.04 L 89.65 230.76 L 95.01 241.06 L 101.25 250.85 L 108.31 260.05 L 116.16 268.61 L 124.71 276.45 L 133.92 283.52 L 143.71 289.76 L 154.01 295.12 L 164.73 299.56 L 175.80 303.05 L 187.14 305.56 L 198.64 307.08 L 210.24 307.58 L 221.84 307.08 L 233.34 305.56 L 244.68 303.05 L 255.75 299.56 L 266.47 295.12 L 276.77 289.76 L 286.56 283.52 L 295.77 276.45 L 304.32 268.61 L 312.17 260.05 L 319.23 250.85 L 325.47 241.06 L 330.83 230.76 L 335.27 220.04 L 338.76 208.97 L 341.27 197.63 L 342.79 186.12 L 343.30 174.53 L 342.79 162.93 L 341.27 151.42 L 338.76 140.09 L 335.27 129.02 L 330.83 118.30 L 325.47 108.00 L 319.23 98.21 L 312.17 89.00 L 304.32 80.44 L 295.77 72.60 L 286.56 65.53 L 276.77 59.30 L 266.47 53.94 L 255.75 49.50 L 244.68 46.01 L 233.34 43.49 L 221.84 41.98 L 210.24 41.47 L 210.24 44.51 z" clip-path="url(#pded382b021)" fill="#9bd93c"/>
<path d="M 221.69 43.62 L 232.87 46.20 L 243.80 49.29 L 254.52 52.87 L 264.90 57.30 L 274.90 62.53 L 284.67 68.23 L 294.22 74.45 L 303.15 81.62 L 311.29 89.74 L 318.72 98.57 L 325.35 108.07 L 327.42 111.51 L 325.47 108.00 L 319.23 98.21 L 312.17 89.00 L 304.32 80.44 L 295.77 72.60 L 286.56 65.53 L 276.77 59.30 L 266.47 53.94 L 255.75 49.50 L 244.68 46.01 L 233.34 43.49 L 221.84 41.98 L 210.24 41.47 L 210.24 42.48 z M 295.75 276.44 L 286.05 282.79 L 275.93 288.30 L 265.44 292.90 L 254.67 296.61 L 243.79 299.73 L 232.83 302.66 L 221.67 305.17 L 210.24 306.37 L 198.74 305.99 L 187.31 304.58 L 176.05 302.14 L 165.04 298.70 L 154.41 294.25 L 144.32 288.70 L 134.85 282.20 L 125.99 274.93 L 117.74 267.03 L 110.12 258.54 L 103.24 249.45 L 97.14 239.82 L 91.58 229.86 L 86.56 219.54 L 82.61 208.73 L 79.95 197.50 L 78.32 186.07 L 77.77 174.53 L 78.27 162.98 L 79.78 151.52 L 82.28 140.24 L 85.76 129.22 L 90.20 118.55 L 95.68 108.39 L 102.08 98.79 L 109.26 89.79 L 117.09 81.38 L 125.55 73.59 L 134.62 66.53 L 144.27 60.26 L 154.44 54.86 L 165.07 50.42 L 176.06 46.97 L 187.31 44.49 L 198.73 42.99 L 210.24 42.48 L 210.24 41.47 L 198.64 41.98 L 187.14 43.49 L 175.80 46.01 L 164.73 49.50 L 154.01 53.94 L 143.71 59.30 L 133.92 65.53 L 124.71 72.60 L 116.16 80.44 L 108.31 89.00 L 101.25 98.21 L 95.01 108.00 L 89.65 118.30 L 85.21 129.02 L 81.72 140.09 L 79.21 151.42 L 77.69 162.93 L 77.18 174.53 L 77.69 186.12 L 79.21 197.63 L 81.72 208.97 L 85.21 220.04 L 89.65 230.76 L 95.01 241.06 L 101.25 250.85 L 108.31 260.05 L 116.16 268.61 L 124.71 276.45 L 133.92 283.52 L 143.71 289.76 L 154.01 295.12 L 164.73 299.56 L 175.80 303.05 L 187.14 305.56 L 198.64 307.08 L 210.24 307.58 L 221.84 307.08 L 233.34 305.56 L 244.68 303.05 L 255.75 299.56 L 266.47 295.12 L 276.77 289.76 L 286.56 283.52 L 295.77 276.45 L 296.06 276.21 z" clip-path="url(#pded382b021)" fill="#b2dd2d"/>
<path d="M 233.18 44.44 L 244.24 47.65 L 255.09 51.30 L 265.60 55.81 L 275.71 61.13 L 285.60 66.91 L 295.26 73.21 L 304.32 80.44 L 295.77 72.60 L 286.56 65.53 L 276.77 59.30 L 266.47 53.94 L 255.75 49.50 L 244.68 46.01 L 233.34 43.49 L 224.34 42.22 z M 266.11 294.35 L 255.20 298.04 L 244.17 301.18 L 233.10 304.18 L 221.81 306.82 L 217.92 307.36 L 221.84 307.08 L 233.34 305.56 L 244.68 303.05 L 255.75 299.56 L 266.47 295.12 L 276.77 289.76 z M 124.87 276.26 L 116.52 268.25 L 108.82 259.63 L 101.88 250.40 L 95.72 240.65 L 90.06 230.57 L 86.96 224.58 L 89.65 230.76 L 95.01 241.06 L 101.25 250.85 L 108.31 260.05 L 116.16 268.61 L 124.71 276.45 L 130.24 280.85 z" clip-path="url(#pded382b021)" fill="#c8e020"/>
<path d="M 255.66 49.73 L 266.29 54.32 L 276.52 59.72 L 286.52 65.58 L 287.20 65.99 L 286.56 65.53 L 276.77 59.30 L 266.47 53.94 L 255.75 49.50 L 244.68 46.01 z M 255.72 299.47 L 244.56 302.62 L 236.10 305.05 L 244.68 303.05 L 255.75 299.56 L 256.97 299.11 z" clip-path="url(#pded382b021)" fill="#dfe318"/>
</g>
<g id="matplotlib.axis_1">
<g id="xtick_1">
<g id="line2d_1">
<path d="M 210.600 174.53 L 210.600 41.47" clip-path="url(#pded382b021)" style="fill: none; stroke: #b0b0b0; stroke-width: 0.8; stroke-linecap: square"/>
</g>
<g id="text_1">
<!-- 0° -->
<g transform="translate(205.0987 30.2314) scale(0.1 -0.1)">
<defs>
<path id="DejaVuSans-30" d="M 2034 4250 
Q 1547 4250 1301 3770 
Q 1056 3291 1056 2328 
Q 1056 1369 1301 889 
Q 1547 409 2034 409 
Q 2525 409 2770 889 
Q 3016 1369 3016 2328 
Q 3016 3291 2770 3770 
Q 2525 4250 2034 4250 
z
M 2034 4750 
Q 2819 4750 3233 4129 
Q 3647 3509 3647 2328 
Q 3647 1150 3233 529 
Q 2819 -91 2034 -91 
Q 1250 -91 836 529 
Q 422 1150 422 2328 
Q 422 3509 836 4129 
Q 1250 4750 2034 4750 
z
" transform="scale(0.015625)"/>
<path id="DejaVuSans-b0" d="M 1600 4347 
Q 1350 4347 1178 4173 
Q 1006 4000 1006 3750 
Q 1006 3503 1178 3333 
Q 1350 3163 1600 3163 
Q 1850 3163 2022 3333 
Q 2194 3503 2194 3750 
Q 2194 3997 2020 4172 
Q 1847 4347 1600 4347 
z
M 1600 4750 
Q 1800 4750 1984 4673 
Q 2169 4597 2303 4453 
Q 2447 4313 2519 4134 
Q 2591 3956 2591 3750 
Q 2591 3338 2302 3052 
Q 2013 2766 1594 2766 
Q 1172 2766 890 3047 
Q 609 3328 609 3750 
Q 609 4169 896 4459 
Q 1184 4750 1600 4750 
z
" transform="scale(0.015625)"/>
</defs>
<use href="#DejaVuSans-30"/>
<use href="#DejaVuSans-b0" transform="translate(63.623047 0)"/>
</g>
</g>
</g>
<g id="xtick_2">
<g id="line2d_2">
<path d="M 210.24 174.53 
L 304.32 80.44 
" clip-path="url(#pded382b021)" style="fill: none; stroke: #b0b0b0; stroke-width: 0.8; stroke-linecap: square"/>
</g>
<g id="text_2">
<!-- 45° -->
<g transform="translate(305.5418 73.3031) scale(0.1 -0.1)">
<defs>
<path id="DejaVuSans-34" d="M 2419 4116 
L 825 1625 
L 2419 1625 
L 2419 4116 
z
M 2253 4666 
L 3047 4666 
L 3047 1625 
L 3713 1625 
L 3713 1100 
L 3047 1100 
L 3047 0 
L 2419 0 
L 2419 1100 
L 313 1100 
L 313 1709 
L 2253 4666 
z
" transform="scale(0.015625)"/>
<path id="DejaVuSans-35" d="M 691 4666 
L 3169 4666 
L 3169 4134 
L 1269 4134 
L 1269 2991 
Q 1406 3038 1543 3061 
Q 1681 3084 1819 3084 
Q 2600 3084 3056 2656 
Q 3513 2228 3513 1497 
Q 3513 744 3044 326 
Q 2575 -91 1722 -91 
Q 1428 -91 1123 -41 
Q 819 9 494 109 
L 494 744 
Q 775 591 1075 516 
Q 1375 441 1709 441 
Q 2250 441 2565 725 
Q 2881 1009 2881 1497 
Q 2881 1984 2565 2268 
Q 2250 2553 1709 2553 
Q 1456 2553 1204 2497 
Q 953 2441 691 2322 
L 691 4666 
z
" transform="scale(0.015625)"/>
</defs>
<use href="#DejaVuSans-34"/>
<use href="#DejaVuSans-35" transform="translate(63.623047 0)"/>
<use href="#DejaVuSans-b0" transform="translate(127.246094 0)"/>
</g>
</g>
</g>
<g id="xtick_3">
<g id="line2d_3">
<path d="M 210.24 174.600 L 343.30 174.600" clip-path="url(#pded382b021)" style="fill: none; stroke: #b0b0b0; stroke-width: 0.8; stroke-linecap: square"/>
</g>
<g id="text_3">
<!-- 90° -->
<g transform="translate(348.9735 177.2874) scale(0.1 -0.1)">
<defs>
<path id="DejaVuSans-39" d="M 703 97 
L 703 672 
Q 941 559 1184 500 
Q 1428 441 1663 441 
Q 2288 441 2617 861 
Q 2947 1281 2994 2138 
Q 2813 1869 2534 1725 
Q 2256 1581 1919 1581 
Q 1219 1581 811 2004 
Q 403 2428 403 3163 
Q 403 3881 828 4315 
Q 1253 4750 1959 4750 
Q 2769 4750 3195 4129 
Q 3622 3509 3622 2328 
Q 3622 1225 3098 567 
Q 2575 -91 1691 -91 
Q 1453 -91 1209 -44 
Q 966 3 703 97 
z
M 1959 2075 
Q 2384 2075 2632 2365 
Q 2881 2656 2881 3163 
Q 2881 3666 2632 3958 
Q 2384 4250 1959 4250 
Q 1534 4250 1286 3958 
Q 1038 3666 1038 3163 
Q 1038 2656 1286 2365 
Q 1534 2075 1959 2075 
z
" transform="scale(0.015625)"/>
</defs>
<use href="#DejaVuSans-39"/>
<use href="#DejaVuSans-30" transform="translate(63.623047 0)"/>
<use href="#DejaVuSans-b0" transform="translate(127.246094 0)"/>
</g>
</g>
</g>
<g id="xtick_4">
<g id="line2d_4">
<path d="M 210.24 174.53 
L 304.32 268.61 
" clip-path="url(#pded382b021)" style="fill: none; stroke: #b0b0b0; stroke-width: 0.8; stroke-linecap: square"/>
</g>
<g id="text_4">
<!-- 135° -->
<g transform="translate(301.8205 281.4517) scale(0.1 -0.1)">
<defs>
<path id="DejaVuSans-31" d="M 794 531 
L 1825 531 
L 1825 4091 
L 703 3866 
L 703 4441 
L 1819 4666 
L 2450 4666 
L 2450 531 
L 3481 531 
L 3481 0 
L 794 0 
L 794 531 
z
" transform="scale(0.015625)"/>
<path id="DejaVuSans-33" d="M 2597 2516 
Q 3050 2419 3304 2112 
Q 3559 1806 3559 1356 
Q 3559 666 3084 287 
Q 2609 -91 1734 -91 
Q 1441 -91 1130 -33 
Q 819 25 488 141 
L 488 750 
Q 750 597 1062 519 
Q 1375 441 1716 441 
Q 2309 441 2620 675 
Q 2931 909 2931 1356 
Q 2931 1769 2642 2001 
Q 2353 2234 1838 2234 
L 1294 2234 
L 1294 2753 
L 1863 2753 
Q 2328 2753 2575 2939 
Q 2822 3125 2822 3475 
Q 2822 3834 2567 4026 
Q 2313 4219 1838 4219 
Q 1578 4219 1281 4162 
Q 984 4106 628 3988 
L 628 4550 
Q 988 4650 1302 4700 
Q 1616 4750 1894 4750 
Q 2613 4750 3031 4423 
Q 3450 4097 3450 3541 
Q 3450 3153 3228 2886 
Q 3006 2619 2597 2516 
z
" transform="scale(0.015625)"/>
</defs>
<use href="#DejaVuSans-31"/>
<use href="#DejaVuSans-33" transform="translate(63.623047 0)"/>
<use href="#DejaVuSans-35" transform="translate(127.246094 0)"/>
<use href="#DejaVuSans-b0" transform="translate(190.869141 0)"/>
</g>
</g>
</g>
<g id="xtick_5">
<g id="line2d_5">
<path d="M 210.600 174.53 L 210.600 307.58" clip-path="url(#pded382b021)" style="fill: none; stroke: #b0b0b0; stroke-width: 0.8; stroke-linecap: square"/>
</g>
<g id="text_5">
<!-- 180° -->
<g transform="translate(198.1962 324.8834) scale(0.1 -0.1)">
<defs>
<path id="DejaVuSans-38" d="M 2034 2216 
Q 1584 2216 1326 1975 
Q 1069 1734 1069 1313 
Q 1069 891 1326 650 
Q 1584 409 2034 409 
Q 2484 409 2743 651 
Q 3003 894 3003 1313 
Q 3003 1734 2745 1975 
Q 2488 2216 2034 2216 
z
M 1403 2484 
Q 997 2584 770 2862 
Q 544 3141 544 3541 
Q 544 4100 942 4425 
Q 1341 4750 2034 4750 
Q 2731 4750 3128 4425 
Q 3525 4100 3525 3541 
Q 3525 3141 3298 2862 
Q 3072 2584 2669 2484 
Q 3125 2378 3379 2068 
Q 3634 1759 3634 1313 
Q 3634 634 3220 271 
Q 2806 -91 2034 -91 
Q 1263 -91 848 271 
Q 434 634 434 1313 
Q 434 1759 690 2068 
Q 947 2378 1403 2484 
z
M 1172 3481 
Q 1172 3119 1398 2916 
Q 1625 2713 2034 2713 
Q 2441 2713 2670 2916 
Q 2900 3119 2900 3481 
Q 2900 3844 2670 4047 
Q 2441 4250 2034 4250 
Q 1625 4250 1398 4047 
Q 1172 3844 1172 3481 
z
" transform="scale(0.015625)"/>
</defs>
<use href="#DejaVuSans-31"/>
<use href="#DejaVuSans-38" transform="translate(63.623047 0)"/>
<use href="#DejaVuSans-30" transform="translate(127.246094 0)"/>
<use href="#DejaVuSans-b0" transform="translate(190.869141 0)"/>
</g>
</g>
</g>
<g id="xtick_6">
<g id="line2d_6">
<path d="M 210.24 174.53 
L 116.16 268.61 
" clip-path="url(#pded382b021)" style="fill: none; stroke: #b0b0b0; stroke-width: 0.8; stroke-linecap: square"/>
</g>
<g id="text_6">
<!-- 225° -->
<g transform="translate(94.2120 281.4517) scale(0.1 -0.1)">
<defs>
<path id="DejaVuSans-32" d="M 1228 531 
L 3431 531 
L 3431 0 
L 469 0 
L 469 531 
Q 828 903 1448 1529 
Q 2069 2156 2228 2338 
Q 2531 2678 2651 2914 
Q 2772 3150 2772 3378 
Q 2772 3750 2511 3984 
Q 2250 4219 1831 4219 
Q 1534 4219 1204 4116 
Q 875 4013 500 3803 
L 500 4441 
Q 881 4594 1212 4672 
Q 1544 4750 1819 4750 
Q 2544 4750 2975 4387 
Q 3406 4025 3406 3419 
Q 3406 3131 3298 2873 
Q 3191 2616 2906 2266 
Q 2828 2175 2409 1742 
Q 1991 1309 1228 531 
z
" transform="scale(0.015625)"/>
</defs>
<use href="#DejaVuSans-32"/>
<use href="#DejaVuSans-32" transform="translate(63.623047 0)"/>
<use href="#DejaVuSans-35" transform="translate(127.246094 0)"/>
<use href="#DejaVuSans-b0" transform="translate(190.869141 0)"/>
</g>
</g>
</g>
<g id="xtick_7">
<g id="line2d_7">
<path d="M 210.24 174.600 L 77.18 174.600" clip-path="url(#pded382b021)" style="fill: none; stroke: #b0b0b0; stroke-width: 0.8; stroke-linecap: square"/>
</g>
<g id="text_7">
<!-- 270° -->
<g transform="translate(50.9603 177.2874) scale(0.1 -0.1)">
<defs>
<path id="DejaVuSans-37" d="M 525 4666 
L 3525 4666 
L 3525 4397 
L 1831 0 
L 1172 0 
L 2766 4134 
L 525 4134 
L 525 4666 
z
" transform="scale(0.015625)"/>
</defs>
<use href="#DejaVuSans-32"/>
<use href="#DejaVuSans-37" transform="translate(63.623047 0)"/>
<use href="#DejaVuSans-30" transform="translate(127.246094 0)"/>
<use href="#DejaVuSans-b0" transform="translate(190.869141 0)"/>
</g>
</g>
</g>
<g id="xtick_8">
<g id="line2d_8">
<path d="M 210.24 174.53 
L 116.16 80.44 
" clip-path="url(#pded382b021)" style="fill: none; stroke: #b0b0b0; stroke-width: 0.8; stroke-linecap: square"/>
</g>
<g id="text_8">
<!-- 315° -->
<g transform="translate(93.6720 73.3031) scale(0.1 -0.1)">
<use href="#DejaVuSans-33"/>
<use href="#DejaVuSans-31" transform="translate(63.623047 0)"/>
<use href="#DejaVuSans-35" transform="translate(127.246094 0)"/>
<use href="#DejaVuSans-b0" transform="translate(190.869141 0)"/>
</g>
</g>
</g>
</g>
<g id="matplotlib.axis_2">
<g id="ytick_1">
<g id="line2d_9">
<path d="M 210.24 159.74 
C 212.18 159.74 214.1 160.13 215.9 160.87 
C 217.69 161.61 219.32 162.7 220.69 164.07 
C 222.07 165.45 223.16 167.08 223.9 168.87 
C 224.64 170.66 225.02 172.59 225.02 174.53 
C 225.02 176.47 224.64 178.39 223.9 180.19 
C 223.16 181.98 222.07 183.61 220.69 184.98 
C 219.32 186.35 217.69 187.44 215.9 188.19 
C 214.1 188.93 212.18 189.31 210.24 189.31 
C 208.3 189.31 206.38 188.93 204.58 188.19 
C 202.79 187.44 201.16 186.35 199.79 184.98 
C 198.41 183.61 197.32 181.98 196.58 180.19 
C 195.84 178.39 195.46 176.47 195.46 174.53 
C 195.46 172.59 195.84 170.66 196.58 168.87 
C 197.32 167.08 198.41 165.45 199.79 164.07 
C 201.16 162.7 202.79 161.61 204.58 160.87 
C 206.38 160.13 208.3 159.74 210.24 159.74 
" clip-path="url(#pded382b021)" style="fill: none; stroke: #b0b0b0; stroke-width: 0.8; stroke-linecap: square"/>
</g>
<g id="text_9">
<!-- 10 -->
<g transform="translate(215.5376 158.4297) scale(0.1 -0.1)">
<use href="#DejaVuSans-31"/>
<use href="#DejaVuSans-30" transform="translate(63.623047 0)"/>
</g>
</g>
</g>
<g id="ytick_2">
<g id="line2d_10">
<path d="M 210.24 144.96 
C 214.12 144.96 217.97 145.72 221.56 147.21 
C 225.14 148.7 228.4 150.87 231.15 153.62 
C 233.89 156.37 236.07 159.63 237.56 163.21 
C 239.04 166.8 239.81 170.65 239.81 174.53 
C 239.81 178.41 239.04 182.26 237.56 185.84 
C 236.07 189.43 233.89 192.69 231.15 195.44 
C 228.4 198.18 225.14 200.36 221.56 201.85 
C 217.97 203.33 214.12 204.1 210.24 204.1 
C 206.36 204.1 202.51 203.33 198.92 201.85 
C 195.34 200.36 192.08 198.18 189.33 195.44 
C 186.59 192.69 184.41 189.43 182.92 185.84 
C 181.44 182.26 180.67 178.41 180.67 174.53 
C 180.67 170.65 181.44 166.8 182.92 163.21 
C 184.41 159.63 186.59 156.37 189.33 153.62 
C 192.08 150.87 195.34 148.7 198.92 147.21 
C 202.51 145.72 206.36 144.96 210.24 144.96 
" clip-path="url(#pded382b021)" style="fill: none; stroke: #b0b0b0; stroke-width: 0.8; stroke-linecap: square"/>
</g>
<g id="text_10">
<!-- 20 -->
<g transform="translate(221.5552 144.9510) scale(0.1 -0.1)">
<use href="#DejaVuSans-32"/>
<use href="#DejaVuSans-30" transform="translate(63.623047 0)"/>
</g>
</g>
</g>
<g id="ytick_3">
<g id="line2d_11">
<path d="M 210.24 130.18 
C 216.06 130.18 221.83 131.32 227.21 133.55 
C 232.59 135.78 237.48 139.05 241.6 143.17 
C 245.72 147.28 248.99 152.17 251.22 157.56 
C 253.44 162.94 254.59 168.7 254.59 174.53 
C 254.59 180.35 253.44 186.12 251.22 191.5 
C 248.99 196.88 245.72 201.77 241.6 205.89 
C 237.48 210.01 232.59 213.28 227.21 215.5 
C 221.83 217.73 216.06 218.88 210.24 218.88 
C 204.42 218.88 198.65 217.73 193.27 215.5 
C 187.89 213.28 183 210.01 178.88 205.89 
C 174.76 201.77 171.49 196.88 169.26 191.5 
C 167.04 186.12 165.89 180.35 165.89 174.53 
C 165.89 168.7 167.04 162.94 169.26 157.56 
C 171.49 152.17 174.76 147.28 178.88 143.17 
C 183 139.05 187.89 135.78 193.27 133.55 
C 198.65 131.32 204.42 130.18 210.24 130.18 
" clip-path="url(#pded382b021)" style="fill: none; stroke: #b0b0b0; stroke-width: 0.8; stroke-linecap: square"/>
</g>
<g id="text_11">
<!-- 30 -->
<g transform="translate(226.8528 131.1124) scale(0.1 -0.1)">
<use href="#DejaVuSans-33"/>
<use href="#DejaVuSans-30" transform="translate(63.623047 0)"/>
</g>
</g>
</g>
<g id="ytick_4">
<g id="line2d_12">
<path d="M 210.24 115.39 
C 218.01 115.39 225.7 116.92 232.87 119.89 
C 240.04 122.87 246.56 127.22 252.06 132.71 
C 257.55 138.2 261.9 144.72 264.87 151.9 
C 267.85 159.07 269.38 166.76 269.38 174.53 
C 269.38 182.29 267.85 189.98 264.87 197.16 
C 261.9 204.33 257.55 210.85 252.06 216.34 
C 246.56 221.83 240.04 226.19 232.87 229.16 
C 225.7 232.13 218.01 233.66 210.24 233.66 
C 202.47 233.66 194.78 232.13 187.61 229.16 
C 180.44 226.19 173.92 221.83 168.42 216.34 
C 162.93 210.85 158.58 204.33 155.61 197.16 
C 152.63 189.98 151.1 182.29 151.1 174.53 
C 151.1 166.76 152.63 159.07 155.61 151.9 
C 158.58 144.72 162.93 138.2 168.42 132.71 
C 173.92 127.22 180.44 122.87 187.61 119.89 
C 194.78 116.92 202.47 115.39 210.24 115.39 
" clip-path="url(#pded382b021)" style="fill: none; stroke: #b0b0b0; stroke-width: 0.8; stroke-linecap: square"/>
</g>
<g id="text_12">
<!-- 40 -->
<g transform="translate(232.6904 117.8138) scale(0.1 -0.1)">
<use href="#DejaVuSans-34"/>
<use href="#DejaVuSans-30" transform="translate(63.623047 0)"/>
</g>
</g>
</g>
<g id="ytick_5">
<g id="line2d_13">
<path d="M 210.24 100.61 
C 219.95 100.61 229.56 102.52 238.53 106.23 
C 247.5 109.95 255.65 115.39 262.51 122.26 
C 269.37 129.12 274.82 137.27 278.53 146.24 
C 282.25 155.21 284.16 164.82 284.16 174.53 
C 284.16 184.24 282.25 193.85 278.53 202.82 
C 274.82 211.78 269.37 219.93 262.51 226.8 
C 255.65 233.66 247.5 239.11 238.53 242.82 
C 229.56 246.54 219.95 248.45 210.24 248.45 
C 200.53 248.45 190.92 246.54 181.95 242.82 
C 172.98 239.11 164.83 233.66 157.97 226.8 
C 151.11 219.93 145.66 211.78 141.95 202.82 
C 138.23 193.85 136.32 184.24 136.32 174.53 
C 136.32 164.82 138.23 155.21 141.95 146.24 
C 145.66 137.27 151.11 129.12 157.97 122.26 
C 164.83 115.39 172.98 109.95 181.95 106.23 
C 190.92 102.52 200.53 100.61 210.24 100.61 
" clip-path="url(#pded382b021)" style="fill: none; stroke: #b0b0b0; stroke-width: 0.8; stroke-linecap: square"/>
</g>
<g id="text_13">
<!-- 50 -->
<g transform="translate(237.9880 104.1551) scale(0.1 -0.1)">
<use href="#DejaVuSans-35"/>
<use href="#DejaVuSans-30" transform="translate(63.623047 0)"/>
</g>
</g>
</g>
<g id="ytick_6">
<g id="line2d_14">
<path d="M 210.24 85.82 
C 221.89 85.82 233.42 88.12 244.19 92.58 
C 254.95 97.03 264.73 103.57 272.96 111.8 
C 281.2 120.04 287.73 129.82 292.19 140.58 
C 296.65 151.34 298.94 162.88 298.94 174.53 
C 298.94 186.18 296.65 197.71 292.19 208.47 
C 287.73 219.24 281.2 229.01 272.96 237.25 
C 264.73 245.49 254.95 252.02 244.19 256.48 
C 233.42 260.94 221.89 263.23 210.24 263.23 
C 198.59 263.23 187.06 260.94 176.29 256.48 
C 165.53 252.02 155.75 245.49 147.52 237.25 
C 139.28 229.01 132.75 219.24 128.29 208.47 
C 123.83 197.71 121.54 186.18 121.54 174.53 
C 121.54 162.88 123.83 151.34 128.29 140.58 
C 132.75 129.82 139.28 120.04 147.52 111.8 
C 155.75 103.57 165.53 97.03 176.29 92.58 
C 187.06 88.12 198.59 85.82 210.24 85.82 
" clip-path="url(#pded382b021)" style="fill: none; stroke: #b0b0b0; stroke-width: 0.8; stroke-linecap: square"/>
</g>
<g id="text_14">
<!-- 60 -->
<g transform="translate(244.1856 90.6765) scale(0.1 -0.1)">
<defs>
<path id="DejaVuSans-36" d="M 2113 2584 
Q 1688 2584 1439 2293 
Q 1191 2003 1191 1497 
Q 1191 994 1439 701 
Q 1688 409 2113 409 
Q 2538 409 2786 701 
Q 3034 994 3034 1497 
Q 3034 2003 2786 2293 
Q 2538 2584 2113 2584 
z
M 3366 4563 
L 3366 3988 
Q 3128 4100 2886 4159 
Q 2644 4219 2406 4219 
Q 1781 4219 1451 3797 
Q 1122 3375 1075 2522 
Q 1259 2794 1537 2939 
Q 1816 3084 2150 3084 
Q 2853 3084 3261 2657 
Q 3669 2231 3669 1497 
Q 3669 778 3244 343 
Q 2819 -91 2113 -91 
Q 1303 -91 875 529 
Q 447 1150 447 2328 
Q 447 3434 972 4092 
Q 1497 4750 2381 4750 
Q 2619 4750 2861 4703 
Q 3103 4656 3366 4563 
z
" transform="scale(0.015625)"/>
</defs>
<use href="#DejaVuSans-36"/>
<use href="#DejaVuSans-30" transform="translate(63.623047 0)"/>
</g>
</g>
</g>
<g id="ytick_7">
<g id="line2d_15">
<path d="M 210.24 71.04 
C 223.83 71.04 237.29 73.72 249.84 78.92 
C 262.4 84.12 273.81 91.74 283.42 101.35 
C 293.03 110.96 300.65 122.37 305.85 134.92 
C 311.05 147.48 313.73 160.94 313.73 174.53 
C 313.73 188.12 311.05 201.58 305.85 214.13 
C 300.65 226.69 293.03 238.1 283.42 247.71 
C 273.81 257.31 262.4 264.94 249.84 270.14 
C 237.29 275.34 223.83 278.02 210.24 278.02 
C 196.65 278.02 183.19 275.34 170.64 270.14 
C 158.08 264.94 146.67 257.31 137.06 247.71 
C 127.45 238.1 119.83 226.69 114.63 214.13 
C 109.43 201.58 106.75 188.12 106.75 174.53 
C 106.75 160.94 109.43 147.48 114.63 134.92 
C 119.83 122.37 127.45 110.96 137.06 101.35 
C 146.67 91.74 158.08 84.12 170.64 78.92 
C 183.19 73.72 196.65 71.04 210.24 71.04 
" clip-path="url(#pded382b021)" style="fill: none; stroke: #b0b0b0; stroke-width: 0.8; stroke-linecap: square"/>
</g>
<g id="text_15">
<!-- 70 -->
<g transform="translate(249.1231 77.0179) scale(0.1 -0.1)">
<use href="#DejaVuSans-37"/>
<use href="#DejaVuSans-30" transform="translate(63.623047 0)"/>
</g>
</g>
</g>
<g id="ytick_8">
<g id="line2d_16">
<path d="M 210.24 56.26 
C 225.77 56.26 241.15 59.32 255.5 65.26 
C 269.85 71.2 282.89 79.91 293.87 90.9 
C 304.85 101.88 313.57 114.92 319.51 129.27 
C 325.45 143.62 328.51 159 328.51 174.53 
C 328.51 190.06 325.45 205.44 319.51 219.79 
C 313.57 234.14 304.85 247.18 293.87 258.16 
C 282.89 269.14 269.85 277.85 255.5 283.8 
C 241.15 289.74 225.77 292.8 210.24 292.8 
C 194.71 292.8 179.33 289.74 164.98 283.8 
C 150.63 277.85 137.59 269.14 126.61 258.16 
C 115.63 247.18 106.91 234.14 100.97 219.79 
C 95.03 205.44 91.97 190.06 91.97 174.53 
C 91.97 159 95.03 143.62 100.97 129.27 
C 106.91 114.92 115.63 101.88 126.61 90.9 
C 137.59 79.91 150.63 71.2 164.98 65.26 
C 179.33 59.32 194.71 56.26 210.24 56.26 
" clip-path="url(#pded382b021)" style="fill: none; stroke: #b0b0b0; stroke-width: 0.8; stroke-linecap: square"/>
</g>
<g id="text_16">
<!-- 80 -->
<g transform="translate(255.5007 63.1792) scale(0.1 -0.1)">
<use href="#DejaVuSans-38"/>
<use href="#DejaVuSans-30" transform="translate(63.623047 0)"/>
</g>
</g>
</g>
<g id="ytick_9">
<g id="line2d_17">
<path d="M 210.24 41.47 
C 227.71 41.47 245.02 44.91 261.16 51.6 
C 277.3 58.29 291.97 68.09 304.32 80.44 
C 316.68 92.8 326.48 107.47 333.17 123.61 
C 339.85 139.75 343.3 157.06 343.3 174.53 
C 343.3 192 339.85 209.3 333.17 225.45 
C 326.48 241.59 316.68 256.26 304.32 268.61 
C 291.97 280.97 277.3 290.77 261.16 297.46 
C 245.02 304.14 227.71 307.58 210.24 307.58 
C 192.77 307.58 175.46 304.14 159.32 297.46 
C 143.18 290.77 128.51 280.97 116.16 268.61 
C 103.8 256.26 94 241.59 87.31 225.45 
C 80.63 209.3 77.18 192 77.18 174.53 
C 77.18 157.06 80.63 139.75 87.31 123.61 
C 94 107.47 103.8 92.8 116.16 80.44 
C 128.51 68.09 143.18 58.29 159.32 51.6 
C 175.46 44.91 192.77 41.47 210.24 41.47 
" clip-path="url(#pded382b021)" style="fill: none; stroke: #b0b0b0; stroke-width: 0.8; stroke-linecap: square"/>
</g>
<g id="text_17">
<!-- 90 -->
<g transform="translate(261.5183 49.5206) scale(0.1 -0.1)">
<use href="#DejaVuSans-39"/>
<use href="#DejaVuSans-30" transform="translate(63.623047 0)"/>
</g>
</g>
</g>
</g>
<g id="patch_3">
<path d="M 210.24 41.47 
C 192.77 41.47 175.46 44.91 159.32 51.6 
C 143.18 58.29 128.51 68.09 116.16 80.44 
C 103.8 92.8 94 107.47 87.31 123.61 
C 80.63 139.75 77.18 157.06 77.18 174.53 
C 77.18 192 80.63 209.3 87.31 225.45 
C 94 241.59 103.8 256.26 116.16 268.61 
C 128.51 280.97 143.18 290.77 159.32 297.46 
C 175.46 304.14 192.77 307.58 210.24 307.58 
C 227.71 307.58 245.02 304.14 261.16 297.46 
C 277.3 290.77 291.97 280.97 304.32 268.61 
C 316.68 256.26 326.48 241.59 333.17 225.45 
C 339.85 209.3 343.3 192 343.3 174.53 
C 343.3 157.06 339.85 139.75 333.17 123.61 
C 326.48 107.47 316.68 92.8 304.32 80.44 
C 291.97 68.09 277.3 58.29 261.16 51.6 
C 245.02 44.91 227.71 41.47 210.24 41.47 
" style="fill: none; stroke: #000000; stroke-width: 0.8; stroke-linejoin: miter; stroke-linecap: square"/>
</g>
<g id="text_18">
<!-- Antenna Phase Biases: ASH701945C_M    OLGA GPS-L2 -->
<g transform="translate(44.494688 16.632938) scale(0.12 -0.12)">
<defs>
<path id="DejaVuSans-41" d="M 2188 4044 
L 1331 1722 
L 3047 1722 
L 2188 4044 
z
M 1831 4666 
L 2547 4666 
L 4325 0 
L 3669 0 
L 3244 1197 
L 1141 1197 
L 716 0 
L 50 0 
L 1831 4666 
z
" transform="scale(0.015625)"/>
<path id="DejaVuSans-6e" d="M 3513 2113 
L 3513 0 
L 2938 0 
L 2938 2094 
Q 2938 2591 2744 2837 
Q 2550 3084 2163 3084 
Q 1697 3084 1428 2787 
Q 1159 2491 1159 1978 
L 1159 0 
L 581 0 
L 581 3500 
L 1159 3500 
L 1159 2956 
Q 1366 3272 1645 3428 
Q 1925 3584 2291 3584 
Q 2894 3584 3203 3211 
Q 3513 2838 3513 2113 
z
" transform="scale(0.015625)"/>
<path id="DejaVuSans-74" d="M 1172 4494 
L 1172 3500 
L 2356 3500 
L 2356 3053 
L 1172 3053 
L 1172 1153 
Q 1172 725 1289 603 
Q 1406 481 1766 481 
L 2356 481 
L 2356 0 
L 1766 0 
Q 1100 0 847 248 
Q 594 497 594 1153 
L 594 3053 
L 172 3053 
L 172 3500 
L 594 3500 
L 594 4494 
L 1172 4494 
z
" transform="scale(0.015625)"/>
<path id="DejaVuSans-65" d="M 3597 1894 
L 3597 1613 
L 953 1613 
Q 991 1019 1311 708 
Q 1631 397 2203 397 
Q 2534 397 2845 478 
Q 3156 559 3463 722 
L 3463 178 
Q 3153 47 2828 -22 
Q 2503 -91 2169 -91 
Q 1331 -91 842 396 
Q 353 884 353 1716 
Q 353 2575 817 3079 
Q 1281 3584 2069 3584 
Q 2775 3584 3186 3129 
Q 3597 2675 3597 1894 
z
M 3022 2063 
Q 3016 2534 2758 2815 
Q 2500 3097 2075 3097 
Q 1594 3097 1305 2825 
Q 1016 2553 972 2059 
L 3022 2063 
z
" transform="scale(0.015625)"/>
<path id="DejaVuSans-61" d="M 2194 1759 
Q 1497 1759 1228 1600 
Q 959 1441 959 1056 
Q 959 750 1161 570 
Q 1363 391 1709 391 
Q 2188 391 2477 730 
Q 2766 1069 2766 1631 
L 2766 1759 
L 2194 1759 
z
M 3341 1997 
L 3341 0 
L 2766 0 
L 2766 531 
Q 2569 213 2275 61 
Q 1981 -91 1556 -91 
Q 1019 -91 701 211 
Q 384 513 384 1019 
Q 384 1609 779 1909 
Q 1175 2209 1959 2209 
L 2766 2209 
L 2766 2266 
Q 2766 2663 2505 2880 
Q 2244 3097 1772 3097 
Q 1472 3097 1187 3025 
Q 903 2953 641 2809 
L 641 3341 
Q 956 3463 1253 3523 
Q 1550 3584 1831 3584 
Q 2591 3584 2966 3190 
Q 3341 2797 3341 1997 
z
" transform="scale(0.015625)"/>
<path id="DejaVuSans-20" transform="scale(0.015625)"/>
<path id="DejaVuSans-50" d="M 1259 4147 
L 1259 2394 
L 2053 2394 
Q 2494 2394 2734 2622 
Q 2975 2850 2975 3272 
Q 2975 3691 2734 3919 
Q 2494 4147 2053 4147 
L 1259 4147 
z
M 628 4666 
L 2053 4666 
Q 2838 4666 3239 4311 
Q 3641 3956 3641 3272 
Q 3641 2581 3239 2228 
Q 2838 1875 2053 1875 
L 1259 1875 
L 1259 0 
L 628 0 
L 628 4666 
z
" transform="scale(0.015625)"/>
<path id="DejaVuSans-68" d="M 3513 2113 
L 3513 0 
L 2938 0 
L 2938 2094 
Q 2938 2591 2744 2837 
Q 2550 3084 2163 3084 
Q 1697 3084 1428 2787 
Q 1159 2491 1159 1978 
L 1159 0 
L 581 0 
L 581 4863 
L 1159 4863 
L 1159 2956 
Q 1366 3272 1645 3428 
Q 1925 3584 2291 3584 
Q 2894 3584 3203 3211 
Q 3513 2838 3513 2113 
z
" transform="scale(0.015625)"/>
<path id="DejaVuSans-73" d="M 2834 3397 
L 2834 2853 
Q 2591 2978 2328 3040 
Q 2066 3103 1784 3103 
Q 1356 3103 1142 2972 
Q 928 2841 928 2578 
Q 928 2378 1081 2264 
Q 1234 2150 1697 2047 
L 1894 2003 
Q 2506 1872 2764 1633 
Q 3022 1394 3022 966 
Q 3022 478 2636 193 
Q 2250 -91 1575 -91 
Q 1294 -91 989 -36 
Q 684 19 347 128 
L 347 722 
Q 666 556 975 473 
Q 1284 391 1588 391 
Q 1994 391 2212 530 
Q 2431 669 2431 922 
Q 2431 1156 2273 1281 
Q 2116 1406 1581 1522 
L 1381 1569 
Q 847 1681 609 1914 
Q 372 2147 372 2553 
Q 372 3047 722 3315 
Q 1072 3584 1716 3584 
Q 2034 3584 2315 3537 
Q 2597 3491 2834 3397 
z
" transform="scale(0.015625)"/>
<path id="DejaVuSans-42" d="M 1259 2228 
L 1259 519 
L 2272 519 
Q 2781 519 3026 730 
Q 3272 941 3272 1375 
Q 3272 1813 3026 2020 
Q 2781 2228 2272 2228 
L 1259 2228 
z
M 1259 4147 
L 1259 2741 
L 2194 2741 
Q 2656 2741 2882 2914 
Q 3109 3088 3109 3444 
Q 3109 3797 2882 3972 
Q 2656 4147 2194 4147 
L 1259 4147 
z
M 628 4666 
L 2241 4666 
Q 2963 4666 3353 4366 
Q 3744 4066 3744 3513 
Q 3744 3084 3544 2831 
Q 3344 2578 2956 2516 
Q 3422 2416 3680 2098 
Q 3938 1781 3938 1306 
Q 3938 681 3513 340 
Q 3088 0 2303 0 
L 628 0 
L 628 4666 
z
" transform="scale(0.015625)"/>
<path id="DejaVuSans-69" d="M 603 3500 
L 1178 3500 
L 1178 0 
L 603 0 
L 603 3500 
z
M 603 4863 
L 1178 4863 
L 1178 4134 
L 603 4134 
L 603 4863 
z
" transform="scale(0.015625)"/>
<path id="DejaVuSans-3a" d="M 750 794 
L 1409 794 
L 1409 0 
L 750 0 
L 750 794 
z
M 750 3309 
L 1409 3309 
L 1409 2516 
L 750 2516 
L 750 3309 
z
" transform="scale(0.015625)"/>
<path id="DejaVuSans-53" d="M 3425 4513 
L 3425 3897 
Q 3066 4069 2747 4153 
Q 2428 4238 2131 4238 
Q 1616 4238 1336 4038 
Q 1056 3838 1056 3469 
Q 1056 3159 1242 3001 
Q 1428 2844 1947 2747 
L 2328 2669 
Q 3034 2534 3370 2195 
Q 3706 1856 3706 1288 
Q 3706 609 3251 259 
Q 2797 -91 1919 -91 
Q 1588 -91 1214 -16 
Q 841 59 441 206 
L 441 856 
Q 825 641 1194 531 
Q 1563 422 1919 422 
Q 2459 422 2753 634 
Q 3047 847 3047 1241 
Q 3047 1584 2836 1778 
Q 2625 1972 2144 2069 
L 1759 2144 
Q 1053 2284 737 2584 
Q 422 2884 422 3419 
Q 422 4038 858 4394 
Q 1294 4750 2059 4750 
Q 2388 4750 2728 4690 
Q 3069 4631 3425 4513 
z
" transform="scale(0.015625)"/>
<path id="DejaVuSans-48" d="M 628 4666 
L 1259 4666 
L 1259 2753 
L 3553 2753 
L 3553 4666 
L 4184 4666 
L 4184 0 
L 3553 0 
L 3553 2222 
L 1259 2222 
L 1259 0 
L 628 0 
L 628 4666 
z
" transform="scale(0.015625)"/>
<path id="DejaVuSans-43" d="M 4122 4306 
L 4122 3641 
Q 3803 3938 3442 4084 
Q 3081 4231 2675 4231 
Q 1875 4231 1450 3742 
Q 1025 3253 1025 2328 
Q 1025 1406 1450 917 
Q 1875 428 2675 428 
Q 3081 428 3442 575 
Q 3803 722 4122 1019 
L 4122 359 
Q 3791 134 3420 21 
Q 3050 -91 2638 -91 
Q 1578 -91 968 557 
Q 359 1206 359 2328 
Q 359 3453 968 4101 
Q 1578 4750 2638 4750 
Q 3056 4750 3426 4639 
Q 3797 4528 4122 4306 
z
" transform="scale(0.015625)"/>
<path id="DejaVuSans-5f" d="M 3263 -1063 
L 3263 -1509 
L -63 -1509 
L -63 -1063 
L 3263 -1063 
z
" transform="scale(0.015625)"/>
<path id="DejaVuSans-4d" d="M 628 4666 
L 1569 4666 
L 2759 1491 
L 3956 4666 
L 4897 4666 
L 4897 0 
L 4281 0 
L 4281 4097 
L 3078 897 
L 2444 897 
L 1241 4097 
L 1241 0 
L 628 0 
L 628 4666 
z
" transform="scale(0.015625)"/>
<path id="DejaVuSans-4f" d="M 2522 4238 
Q 1834 4238 1429 3725 
Q 1025 3213 1025 2328 
Q 1025 1447 1429 934 
Q 1834 422 2522 422 
Q 3209 422 3611 934 
Q 4013 1447 4013 2328 
Q 4013 3213 3611 3725 
Q 3209 4238 2522 4238 
z
M 2522 4750 
Q 3503 4750 4090 4092 
Q 4678 3434 4678 2328 
Q 4678 1225 4090 567 
Q 3503 -91 2522 -91 
Q 1538 -91 948 565 
Q 359 1222 359 2328 
Q 359 3434 948 4092 
Q 1538 4750 2522 4750 
z
" transform="scale(0.015625)"/>
<path id="DejaVuSans-4c" d="M 628 4666 
L 1259 4666 
L 1259 531 
L 3531 531 
L 3531 0 
L 628 0 
L 628 4666 
z
" transform="scale(0.015625)"/>
<path id="DejaVuSans-47" d="M 3809 666 
L 3809 1919 
L 2778 1919 
L 2778 2438 
L 4434 2438 
L 4434 434 
Q 4069 175 3628 42 
Q 3188 -91 2688 -91 
Q 1594 -91 976 548 
Q 359 1188 359 2328 
Q 359 3472 976 4111 
Q 1594 4750 2688 4750 
Q 3144 4750 3555 4637 
Q 3966 4525 4313 4306 
L 4313 3634 
Q 3963 3931 3569 4081 
Q 3175 4231 2741 4231 
Q 1884 4231 1454 3753 
Q 1025 3275 1025 2328 
Q 1025 1384 1454 906 
Q 1884 428 2741 428 
Q 3075 428 3337 486 
Q 3600 544 3809 666 
z
" transform="scale(0.015625)"/>
<path id="DejaVuSans-2d" d="M 313 2009 
L 1997 2009 
L 1997 1497 
L 313 1497 
L 313 2009 
z
" transform="scale(0.015625)"/>
</defs>
<use href="#DejaVuSans-41"/>
<use href="#DejaVuSans-6e" transform="translate(68.408203 0)"/>
<use href="#DejaVuSans-74" transform="translate(131.787109 0)"/>
<use href="#DejaVuSans-65" transform="translate(170.996094 0)"/>
<use href="#DejaVuSans-6e" transform="translate(232.519531 0)"/>
<use href="#DejaVuSans-6e" transform="translate(295.898438 0)"/>
<use href="#DejaVuSans-61" transform="translate(359.277344 0)"/>
<use href="#DejaVuSans-20" transform="translate(420.556641 0)"/>
<use href="#DejaVuSans-50" transform="translate(452.34375 0)"/>
<use href="#DejaVuSans-68" transform="translate(512.646484 0)"/>
<use href="#DejaVuSans-61" transform="translate(576.025391 0)"/>
<use href="#DejaVuSans-73" transform="translate(637.304688 0)"/>
<use href="#DejaVuSans-65" transform="translate(689.404297 0)"/>
<use href="#DejaVuSans-20" transform="translate(750.927734 0)"/>
<use href="#DejaVuSans-42" transform="translate(782.714844 0)"/>
<use href="#DejaVuSans-69" transform="translate(851.318359 0)"/>
<use href="#DejaVuSans-61" transform="translate(879.101562 0)"/>
<use href="#DejaVuSans-73" transform="translate(940.380859 0)"/>
<use href="#DejaVuSans-65" transform="translate(992.480469 0)"/>
<use href="#DejaVuSans-73" transform="translate(1054.003906 0)"/>
<use href="#DejaVuSans-3a" transform="translate(1106.103516 0)"/>
<use href="#DejaVuSans-20" transform="translate(1139.794922 0)"/>
<use href="#DejaVuSans-41" transform="translate(1171.582031 0)"/>
<use href="#DejaVuSans-53" transform="translate(1239.990234 0)"/>
<use href="#DejaVuSans-48" transform="translate(1303.466797 0)"/>
<use href="#DejaVuSans-37" transform="translate(1378.662109 0)"/>
<use href="#DejaVuSans-30" transform="translate(1442.285156 0)"/>
<use href="#DejaVuSans-31" transform="translate(1505.908203 0)"/>
<use href="#DejaVuSans-39" transform="translate(1569.53125 0)"/>
<use href="#DejaVuSans-34" transform="translate(1633.154297 0)"/>
<use href="#DejaVuSans-35" transform="translate(1696.777344 0)"/>
<use href="#DejaVuSans-43" transform="translate(1760.400391 0)"/>
<use href="#DejaVuSans-5f" transform="translate(1830.224609 0)"/>
<use href="#DejaVuSans-4d" transform="translate(1880.224609 0)"/>
<use href="#DejaVuSans-20" transform="translate(1966.503906 0)"/>
<use href="#DejaVuSans-20" transform="translate(1998.291016 0)"/>
<use href="#DejaVuSans-20" transform="translate(2030.078125 0)"/>
<use href="#DejaVuSans-20" transform="translate(2061.865234 0)"/>
<use href="#DejaVuSans-4f" transform="translate(2093.652344 0)"/>
<use href="#DejaVuSans-4c" transform="translate(2172.363281 0)"/>
<use href="#DejaVuSans-47" transform="translate(2228.076172 0)"/>
<use href="#DejaVuSans-41" transform="translate(2305.566406 0)"/>
<use href="#DejaVuSans-20" transform="translate(2373.974609 0)"/>
<use href="#DejaVuSans-47" transform="translate(2405.761719 0)"/>
<use href="#DejaVuSans-50" transform="translate(2483.251953 0)"/>
<use href="#DejaVuSans-53" transform="translate(2543.554688 0)"/>
<use href="#DejaVuSans-2d" transform="translate(2607.03125 0)"/>
<use href="#DejaVuSans-4c" transform="translate(2643.115234 0)"/>
<use href="#DejaVuSans-32" transform="translate(2698.828125 0)"/>
</g>
</g>
</g>
<g id="axes_2">
<g id="patch_4">
<path d="M 361.15 307.58 
L 374.46 307.58 
L 374.46 41.47 
L 361.15 41.47 
z
" style="fill: #ffffff"/>
</g>
<g id="QuadMesh_1" transform="scale(0.72)" shape-rendering="crispEdges"><rect x="502" y="58" width="19" height="12" fill="#f4e61e"/><rect x="502" y="70" width="19" height="12" fill="#dfe318"/><rect x="502" y="82" width="19" height="13" fill="#c8e020"/><rect x="502" y="95" width="19" height="12" fill="#b2dd2d"/><rect x="502" y="107" width="19" height="12" fill="#9bd93c"/><rect x="502" y="119" width="19" height="13" fill="#86d549"/><rect x="502" y="132" width="19" height="12" fill="#70cf57"/><rect x="502" y="144" width="19" height="12" fill="#5ec962"/><rect x="502" y="156" width="19" height="12" fill="#4cc26c"/><rect x="502" y="168" width="19" height="13" fill="#3bbb75"/><rect x="502" y="181" width="19" height="12" fill="#2fb47c"/><rect x="502" y="193" width="19" height="12" fill="#25ac82"/><rect x="502" y="205" width="19" height="13" fill="#20a486"/><rect x="502" y="218" width="19" height="12" fill="#1e9c89"/><rect x="502" y="230" width="19" height="12" fill="#1f948c"/><rect x="502" y="242" width="19" height="13" fill="#228c8d"/><rect x="502" y="255" width="19" height="12" fill="#25848e"/><rect x="502" y="267" width="19" height="12" fill="#287c8e"/><rect x="502" y="279" width="19" height="13" fill="#2b748e"/><rect x="502" y="292" width="19" height="12" fill="#2f6c8e"/><rect x="502" y="304" width="19" height="12" fill="#32648e"/><rect x="502" y="316" width="19" height="13" fill="#375b8d"/><rect x="502" y="329" width="19" height="12" fill="#3b528b"/><rect x="502" y="341" width="19" height="12" fill="#3f4889"/><rect x="502" y="353" width="19" height="13" fill="#433e85"/><rect x="502" y="366" width="19" height="12" fill="#463480"/><rect x="502" y="378" width="19" height="12" fill="#482979"/><rect x="502" y="390" width="19" height="13" fill="#481f70"/><rect x="502" y="403" width="19" height="12" fill="#471365"/><rect x="502" y="415" width="19" height="12" fill="#46075a"/></g>
<g id="matplotlib.axis_3"/>
<g id="matplotlib.axis_4">
<g id="ytick_10">
<g id="line2d_18">
<defs>
<path id="m33c4ce201d" d="M 0 0 
L 3.6 0 
" style="stroke: #000000; stroke-width: 0.8"/>
</defs>
<g>
<use href="#m33c4ce201d" x="374.76" y="281.160" style="stroke: #000000; stroke-width: 0.8"/>
</g>
</g>
<g id="text_19">
<!-- −12 -->
<g transform="translate(380.7376 285.3120) scale(0.1 -0.1)">
<defs>
<path id="DejaVuSans-2212" d="M 678 2272 
L 4684 2272 
L 4684 1741 
L 678 1741 
L 678 2272 
z
" transform="scale(0.015625)"/>
</defs>
<use href="#DejaVuSans-2212"/>
<use href="#DejaVuSans-31" transform="translate(83.789062 0)"/>
<use href="#DejaVuSans-32" transform="translate(147.412109 0)"/>
</g>
</g>
</g>
<g id="ytick_11">
<g id="line2d_19">
<g>
<use href="#m33c4ce201d" x="374.76" y="245.880" style="stroke: #000000; stroke-width: 0.8"/>
</g>
</g>
<g id="text_20">
<!-- −8 -->
<g transform="translate(380.9176 249.2904) scale(0.1 -0.1)">
<use href="#DejaVuSans-2212"/>
<use href="#DejaVuSans-38" transform="translate(83.789062 0)"/>
</g>
</g>
</g>
<g id="ytick_12">
<g id="line2d_20">
<g>
<use href="#m33c4ce201d" x="374.76" y="210.600" style="stroke: #000000; stroke-width: 0.8"/>
</g>
</g>
<g id="text_21">
<!-- −4 -->
<g transform="translate(380.7376 213.8088) scale(0.1 -0.1)">
<use href="#DejaVuSans-2212"/>
<use href="#DejaVuSans-34" transform="translate(83.789062 0)"/>
</g>
</g>
</g>
<g id="ytick_13">
<g id="line2d_21">
<g>
<use href="#m33c4ce201d" x="374.76" y="174.600" style="stroke: #000000; stroke-width: 0.8"/>
</g>
</g>
<g id="text_22">
<!-- 0 -->
<g transform="translate(382.1776 178.5072) scale(0.1 -0.1)">
<use href="#DejaVuSans-30"/>
</g>
</g>
</g>
<g id="ytick_14">
<g id="line2d_22">
<g>
<use href="#m33c4ce201d" x="374.76" y="139.320" style="stroke: #000000; stroke-width: 0.8"/>
</g>
</g>
<g id="text_23">
<!-- 4 -->
<g transform="translate(381.6376 143.0256) scale(0.1 -0.1)">
<use href="#DejaVuSans-34"/>
</g>
</g>
</g>
<g id="ytick_15">
<g id="line2d_23">
<g>
<use href="#m33c4ce201d" x="374.76" y="104.040" style="stroke: #000000; stroke-width: 0.8"/>
</g>
</g>
<g id="text_24">
<!-- 8 -->
<g transform="translate(381.6376 107.3640) scale(0.1 -0.1)">
<use href="#DejaVuSans-38"/>
</g>
</g>
</g>
<g id="ytick_16">
<g id="line2d_24">
<g>
<use href="#m33c4ce201d" x="374.76" y="68.760" style="stroke: #000000; stroke-width: 0.8"/>
</g>
</g>
<g id="text_25">
<!-- 12 -->
<g transform="translate(381.4576 71.8824) scale(0.1 -0.1)">
<use href="#DejaVuSans-31"/>
<use href="#DejaVuSans-32" transform="translate(63.623047 0)"/>
</g>
</g>
</g>
<g id="text_26">
<!-- Bias (mm) -->
<g transform="translate(413.9807 200.7875) rotate(-90) scale(0.1 -0.1)">
<defs>
<path id="DejaVuSans-28" d="M 1984 4856 
Q 1566 4138 1362 3434 
Q 1159 2731 1159 2009 
Q 1159 1288 1364 580 
Q 1569 -128 1984 -844 
L 1484 -844 
Q 1016 -109 783 600 
Q 550 1309 550 2009 
Q 550 2706 781 3412 
Q 1013 4119 1484 4856 
L 1984 4856 
z
" transform="scale(0.015625)"/>
<path id="DejaVuSans-6d" d="M 3328 2828 
Q 3544 3216 3844 3400 
Q 4144 3584 4550 3584 
Q 5097 3584 5394 3201 
Q 5691 2819 5691 2113 
L 5691 0 
L 5113 0 
L 5113 2094 
Q 5113 2597 4934 2840 
Q 4756 3084 4391 3084 
Q 3944 3084 3684 2787 
Q 3425 2491 3425 1978 
L 3425 0 
L 2847 0 
L 2847 2094 
Q 2847 2600 2669 2842 
Q 2491 3084 2119 3084 
Q 1678 3084 1418 2786 
Q 1159 2488 1159 1978 
L 1159 0 
L 581 0 
L 581 3500 
L 1159 3500 
L 1159 2956 
Q 1356 3278 1631 3431 
Q 1906 3584 2284 3584 
Q 2666 3584 2933 3390 
Q 3200 3197 3328 2828 
z
" transform="scale(0.015625)"/>
<path id="DejaVuSans-29" d="M 513 4856 
L 1013 4856 
Q 1481 4119 1714 3412 
Q 1947 2706 1947 2009 
Q 1947 1309 1714 600 
Q 1481 -109 1013 -844 
L 513 -844 
Q 928 -128 1133 580 
Q 1338 1288 1338 2009 
Q 1338 2731 1133 3434 
Q 928 4138 513 4856 
z
" transform="scale(0.015625)"/>
</defs>
<use href="#DejaVuSans-42"/>
<use href="#DejaVuSans-69" transform="translate(68.603516 0)"/>
<use href="#DejaVuSans-61" transform="translate(96.386719 0)"/>
<use href="#DejaVuSans-73" transform="translate(157.666016 0)"/>
<use href="#DejaVuSans-20" transform="translate(209.765625 0)"/>
<use href="#DejaVuSans-28" transform="translate(241.552734 0)"/>
<use href="#DejaVuSans-6d" transform="translate(280.566406 0)"/>
<use href="#DejaVuSans-6d" transform="translate(377.978516 0)"/>
<use href="#DejaVuSans-29" transform="translate(475.390625 0)"/>
</g>
</g>
</g>
<g id="LineCollection_1"/>
<g id="patch_5" transform="scale(0.72)"><rect x="502.5" y="58.5" width="18" height="369" style="fill:none;stroke:#000;stroke-width:1.111;stroke-linejoin:miter"/></g>
</g>
</g>
<defs>
<clipPath id="pded382b021">
<path d="M 343.3 174.53 
C 343.3 157.06 339.85 139.75 333.17 123.61 
C 326.48 107.47 316.68 92.8 304.32 80.44 
C 291.97 68.09 277.3 58.29 261.16 51.6 
C 245.02 44.91 227.71 41.47 210.24 41.47 
C 192.77 41.47 175.46 44.91 159.32 51.6 
C 143.18 58.29 128.51 68.09 116.16 80.44 
C 103.8 92.8 94 107.47 87.31 123.61 
C 80.63 139.75 77.18 157.06 77.18 174.53 
C 77.18 192 80.63 209.3 87.31 225.45 
C 94 241.59 103.8 256.26 116.16 268.61 
C 128.51 280.97 143.18 290.77 159.32 297.46 
C 175.46 304.14 192.77 307.58 210.24 307.58 
C 227.71 307.58 245.02 304.14 261.16 297.46 
C 277.3 290.77 291.97 280.97 304.32 268.61 
C 316.68 256.26 326.48 241.59 333.17 225.45 
C 339.85 209.3 343.3 192 343.3 174.53 
M 210.24 174.53 
C 210.24 174.53 210.24 174.53 210.24 174.53 
C 210.24 174.53 210.24 174.53 210.24 174.53 
C 210.24 174.53 210.24 174.53 210.24 174.53 
C 210.24 174.53 210.24 174.53 210.24 174.53 
C 210.24 174.53 210.24 174.53 210.24 174.53 
C 210.24 174.53 210.24 174.53 210.24 174.53 
C 210.24 174.53 210.24 174.53 210.24 174.53 
C 210.24 174.53 210.24 174.53 210.24 174.53 
C 210.24 174.53 210.24 174.53 210.24 174.53 
C 210.24 174.53 210.24 174.53 210.24 174.53 
C 210.24 174.53 210.24 174.53 210.24 174.53 
C 210.24 174.53 210.24 174.53 210.24 174.53 
C 210.24 174.53 210.24 174.53 210.24 174.53 
C 210.24 174.53 210.24 174.53 210.24 174.53 
C 210.24 174.53 210.24 174.53 210.24 174.53 
C 210.24 174.53 210.24 174.53 210.24 174.53 
z
"/>
</clipPath>
<clipPath id="p67af23f93f">
<rect x="361.152" y="41.472" width="13.3056" height="266.112"/>
</clipPath>
</defs>
</svg>

</body></html>
